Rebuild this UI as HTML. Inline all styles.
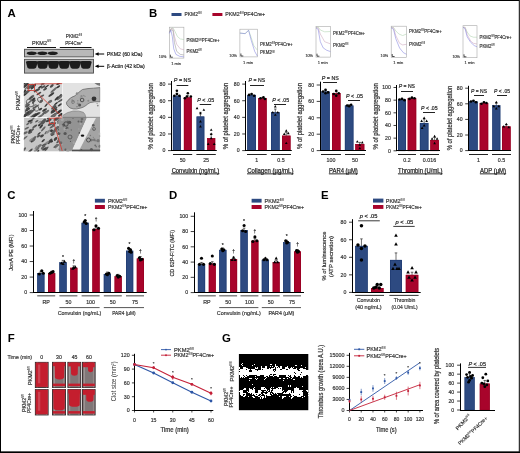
<!DOCTYPE html>
<html><head><meta charset="utf-8"><style>
html,body{margin:0;padding:0;background:#fff;width:520px;height:453px;overflow:hidden;}
</style></head><body>
<svg width="520" height="453" viewBox="0 0 520 453" style="position:absolute;left:0;top:0;will-change:transform">
<g style="font-family:'Liberation Sans', sans-serif">
<rect x="0.00" y="0.00" width="520.00" height="453.00" fill="#fff"/>
<text x="7.40" y="16.90" text-anchor="start" fill="#000" style="font-size:11.4px;font-weight:bold;">A</text>
<text x="148.90" y="16.50" text-anchor="start" fill="#000" style="font-size:11.4px;font-weight:bold;">B</text>
<text x="7.30" y="198.90" text-anchor="start" fill="#000" style="font-size:11.4px;font-weight:bold;">C</text>
<text x="168.90" y="198.90" text-anchor="start" fill="#000" style="font-size:11.4px;font-weight:bold;">D</text>
<text x="320.90" y="198.80" text-anchor="start" fill="#000" style="font-size:11.4px;font-weight:bold;">E</text>
<text x="7.80" y="341.60" text-anchor="start" fill="#000" style="font-size:11.4px;font-weight:bold;">F</text>
<text x="222.00" y="341.70" text-anchor="start" fill="#000" style="font-size:11.4px;font-weight:bold;">G</text>
<text x="41.60" y="44.50" text-anchor="middle" fill="#333" style="font-size:5.3px;stroke:#333;stroke-width:0.180px;" textLength="19.20" lengthAdjust="spacingAndGlyphs">PKM2<tspan dy="-2.01" style="font-size:3.18px;stroke-width:0.05px">fl/fl</tspan></text>
<text x="74.00" y="37.60" text-anchor="middle" fill="#333" style="font-size:5.3px;stroke:#333;stroke-width:0.180px;" textLength="16.50" lengthAdjust="spacingAndGlyphs">PKM2<tspan dy="-2.01" style="font-size:3.18px;stroke-width:0.05px">fl/fl</tspan></text>
<text x="73.80" y="44.50" text-anchor="middle" fill="#333" style="font-size:5.3px;stroke:#333;stroke-width:0.180px;" textLength="17.00" lengthAdjust="spacingAndGlyphs">PF4Cre<tspan dy="-1.9" style="font-size:3.2px">+</tspan></text>
<line x1="27.00" y1="47.50" x2="56.00" y2="47.50" stroke="#111" stroke-width="1.0"/>
<line x1="59.80" y1="47.50" x2="91.50" y2="47.50" stroke="#111" stroke-width="1.0"/>
<rect x="24.50" y="49.30" width="69.00" height="7.60" fill="#b8b8b8" stroke="#4a4a4a" stroke-width="0.9"/>
<rect x="24.50" y="59.30" width="69.00" height="13.80" fill="#b0b0b0" stroke="#4a4a4a" stroke-width="0.9"/>
<path d="M26.60,53.3 Q27.10,51.4 31.70,51.4 Q36.40,51.4 36.90,53.3 Q36.40,55.1 31.70,55.1 Q27.10,55.1 26.60,53.3 Z" fill="#1e1e1e"/>
<path d="M37.20,53.3 Q37.70,51.4 42.30,51.4 Q47.00,51.4 47.50,53.3 Q47.00,55.1 42.30,55.1 Q37.70,55.1 37.20,53.3 Z" fill="#1e1e1e"/>
<path d="M47.60,53.3 Q48.10,51.4 52.70,51.4 Q57.40,51.4 57.90,53.3 Q57.40,55.1 52.70,55.1 Q48.10,55.1 47.60,53.3 Z" fill="#1e1e1e"/>
<path d="M25.90,62.0 Q26.20,61.0 28.20,61.0 L35.60,61.0 Q37.40,61.0 37.70,62.0 L36.20,67.6 Q35.70,68.7 34.00,68.7 L29.40,68.7 Q27.80,68.7 27.40,67.6 Z" fill="#1c1c1c"/>
<path d="M36.70,62.0 Q37.00,61.0 39.00,61.0 L46.40,61.0 Q48.20,61.0 48.50,62.0 L47.00,67.6 Q46.50,68.7 44.80,68.7 L40.20,68.7 Q38.60,68.7 38.20,67.6 Z" fill="#1c1c1c"/>
<path d="M47.50,62.0 Q47.80,61.0 49.80,61.0 L57.20,61.0 Q59.00,61.0 59.30,62.0 L57.80,67.6 Q57.30,68.7 55.60,68.7 L51.00,68.7 Q49.40,68.7 49.00,67.6 Z" fill="#1c1c1c"/>
<path d="M58.30,62.0 Q58.60,61.0 60.60,61.0 L68.00,61.0 Q69.80,61.0 70.10,62.0 L68.60,67.6 Q68.10,68.7 66.40,68.7 L61.80,68.7 Q60.20,68.7 59.80,67.6 Z" fill="#1c1c1c"/>
<path d="M69.10,62.0 Q69.40,61.0 71.40,61.0 L78.80,61.0 Q80.60,61.0 80.90,62.0 L79.40,67.6 Q78.90,68.7 77.20,68.7 L72.60,68.7 Q71.00,68.7 70.60,67.6 Z" fill="#1c1c1c"/>
<path d="M79.90,62.0 Q80.20,61.0 82.20,61.0 L89.60,61.0 Q91.40,61.0 91.70,62.0 L90.20,67.6 Q89.70,68.7 88.00,68.7 L83.40,68.7 Q81.80,68.7 81.40,67.6 Z" fill="#1c1c1c"/>
<line x1="97.00" y1="54.00" x2="104.20" y2="54.00" stroke="#000" stroke-width="1.0"/>
<polygon points="94.8,54.00 98.6,52.20 98.6,55.80" fill="#000"/>
<line x1="97.00" y1="66.30" x2="104.20" y2="66.30" stroke="#000" stroke-width="1.0"/>
<polygon points="94.8,66.30 98.6,64.50 98.6,68.10" fill="#000"/>
<text x="106.70" y="56.00" text-anchor="start" fill="#222" style="font-size:5.3px;stroke:#222;stroke-width:0.180px;" textLength="35.80" lengthAdjust="spacingAndGlyphs">PKM2 (60 kDa)</text>
<text x="106.70" y="68.10" text-anchor="start" fill="#222" style="font-size:5.3px;stroke:#222;stroke-width:0.180px;" textLength="38.00" lengthAdjust="spacingAndGlyphs">&#946;-Actin (42 kDa)</text>
<clipPath id="emc1"><rect x="23.8" y="83" width="38.6" height="34.3"/></clipPath>
<clipPath id="emc2"><rect x="23.8" y="117.8" width="76.4" height="33.8"/></clipPath>
<clipPath id="emc3"><rect x="62.4" y="83" width="37.8" height="34.8"/></clipPath>
<g clip-path="url(#emc1)">
<rect x="23.8" y="83" width="38.6" height="34.3" fill="#d8d8d8"/>
<ellipse cx="29.0" cy="112.1" rx="3.8" ry="0.9" fill="#585858" transform="rotate(-38 29.0 112.1)"/>
<ellipse cx="42.0" cy="96.0" rx="2.5" ry="1.0" fill="#585858" transform="rotate(-30 42.0 96.0)"/>
<ellipse cx="40.5" cy="109.1" rx="2.0" ry="1.0" fill="#3e3e3e" transform="rotate(-34 40.5 109.1)"/>
<ellipse cx="46.6" cy="86.5" rx="2.8" ry="0.7" fill="#333" transform="rotate(-35 46.6 86.5)"/>
<ellipse cx="60.1" cy="96.1" rx="2.5" ry="1.0" fill="#3e3e3e" transform="rotate(-47 60.1 96.1)"/>
<ellipse cx="53.3" cy="115.2" rx="3.3" ry="0.9" fill="#585858" transform="rotate(-34 53.3 115.2)"/>
<ellipse cx="60.6" cy="114.8" rx="3.0" ry="1.2" fill="#333" transform="rotate(-30 60.6 114.8)"/>
<ellipse cx="31.0" cy="117.0" rx="4.1" ry="0.8" fill="#6a6a6a" transform="rotate(-41 31.0 117.0)"/>
<ellipse cx="59.9" cy="97.5" rx="4.0" ry="1.1" fill="#6a6a6a" transform="rotate(-42 59.9 97.5)"/>
<ellipse cx="61.4" cy="100.1" rx="4.3" ry="0.9" fill="#585858" transform="rotate(-31 61.4 100.1)"/>
<ellipse cx="33.2" cy="110.4" rx="3.0" ry="0.8" fill="#4a4a4a" transform="rotate(-37 33.2 110.4)"/>
<ellipse cx="27.1" cy="105.8" rx="2.3" ry="0.8" fill="#4a4a4a" transform="rotate(-31 27.1 105.8)"/>
<ellipse cx="42.7" cy="84.0" rx="2.1" ry="1.1" fill="#6a6a6a" transform="rotate(-28 42.7 84.0)"/>
<ellipse cx="46.1" cy="105.2" rx="2.4" ry="0.8" fill="#3e3e3e" transform="rotate(-48 46.1 105.2)"/>
<ellipse cx="44.6" cy="112.5" rx="2.6" ry="1.0" fill="#6a6a6a" transform="rotate(-29 44.6 112.5)"/>
<ellipse cx="37.4" cy="114.2" rx="3.6" ry="1.1" fill="#585858" transform="rotate(-33 37.4 114.2)"/>
<ellipse cx="54.0" cy="111.1" rx="4.1" ry="1.1" fill="#6a6a6a" transform="rotate(-32 54.0 111.1)"/>
<ellipse cx="53.8" cy="90.0" rx="4.3" ry="1.0" fill="#6a6a6a" transform="rotate(-41 53.8 90.0)"/>
<ellipse cx="31.5" cy="100.3" rx="3.2" ry="0.9" fill="#6a6a6a" transform="rotate(-41 31.5 100.3)"/>
<ellipse cx="44.6" cy="110.0" rx="2.8" ry="1.1" fill="#3e3e3e" transform="rotate(-32 44.6 110.0)"/>
<ellipse cx="45.1" cy="89.2" rx="2.2" ry="1.0" fill="#4a4a4a" transform="rotate(-31 45.1 89.2)"/>
<ellipse cx="25.1" cy="115.4" rx="2.2" ry="1.2" fill="#4a4a4a" transform="rotate(-39 25.1 115.4)"/>
<ellipse cx="33.4" cy="86.8" rx="3.5" ry="0.9" fill="#3e3e3e" transform="rotate(-47 33.4 86.8)"/>
<ellipse cx="33.7" cy="115.7" rx="3.6" ry="1.1" fill="#4a4a4a" transform="rotate(-42 33.7 115.7)"/>
<ellipse cx="43.0" cy="86.9" rx="2.7" ry="0.9" fill="#4a4a4a" transform="rotate(-32 43.0 86.9)"/>
<ellipse cx="28.0" cy="113.9" rx="3.2" ry="0.8" fill="#333" transform="rotate(-36 28.0 113.9)"/>
<ellipse cx="32.5" cy="96.6" rx="2.1" ry="1.3" fill="#6a6a6a" transform="rotate(-39 32.5 96.6)"/>
<ellipse cx="50.0" cy="101.7" rx="2.5" ry="1.3" fill="#6a6a6a" transform="rotate(-32 50.0 101.7)"/>
<ellipse cx="41.2" cy="101.0" rx="2.1" ry="1.1" fill="#585858" transform="rotate(-32 41.2 101.0)"/>
<ellipse cx="26.1" cy="93.2" rx="4.3" ry="1.2" fill="#333" transform="rotate(-42 26.1 93.2)"/>
<ellipse cx="35.8" cy="115.2" rx="3.8" ry="0.9" fill="#333" transform="rotate(-43 35.8 115.2)"/>
<ellipse cx="45.4" cy="112.2" rx="3.4" ry="0.8" fill="#585858" transform="rotate(-30 45.4 112.2)"/>
<ellipse cx="30.4" cy="112.8" rx="4.3" ry="1.1" fill="#585858" transform="rotate(-38 30.4 112.8)"/>
<ellipse cx="31.5" cy="86.4" rx="3.4" ry="1.2" fill="#585858" transform="rotate(-36 31.5 86.4)"/>
<ellipse cx="27.8" cy="105.8" rx="2.7" ry="1.0" fill="#585858" transform="rotate(-41 27.8 105.8)"/>
<ellipse cx="58.5" cy="83.6" rx="2.5" ry="0.9" fill="#3e3e3e" transform="rotate(-28 58.5 83.6)"/>
<ellipse cx="36.9" cy="90.3" rx="3.6" ry="1.2" fill="#4a4a4a" transform="rotate(-29 36.9 90.3)"/>
<ellipse cx="59.1" cy="111.7" rx="3.3" ry="1.2" fill="#333" transform="rotate(-37 59.1 111.7)"/>
<ellipse cx="51.8" cy="85.9" rx="2.4" ry="1.2" fill="#4a4a4a" transform="rotate(-44 51.8 85.9)"/>
<ellipse cx="47.0" cy="111.9" rx="2.9" ry="0.9" fill="#6a6a6a" transform="rotate(-42 47.0 111.9)"/>
<ellipse cx="53.9" cy="107.5" rx="3.2" ry="1.0" fill="#4a4a4a" transform="rotate(-33 53.9 107.5)"/>
<ellipse cx="25.3" cy="85.5" rx="4.1" ry="1.2" fill="#4a4a4a" transform="rotate(-31 25.3 85.5)"/>
<ellipse cx="28.2" cy="103.1" rx="4.2" ry="0.7" fill="#6a6a6a" transform="rotate(-37 28.2 103.1)"/>
<ellipse cx="27.0" cy="92.1" rx="4.1" ry="1.0" fill="#585858" transform="rotate(-29 27.0 92.1)"/>
<ellipse cx="58.4" cy="86.7" rx="2.1" ry="0.9" fill="#333" transform="rotate(-36 58.4 86.7)"/>
<ellipse cx="27.3" cy="86.9" rx="4.1" ry="0.7" fill="#6a6a6a" transform="rotate(-43 27.3 86.9)"/>
<ellipse cx="40.1" cy="87.0" rx="2.4" ry="0.8" fill="#333" transform="rotate(-33 40.1 87.0)"/>
<ellipse cx="40.6" cy="116.1" rx="3.9" ry="1.0" fill="#6a6a6a" transform="rotate(-32 40.6 116.1)"/>
<ellipse cx="33.6" cy="99.4" rx="2.2" ry="1.1" fill="#333" transform="rotate(-47 33.6 99.4)"/>
<ellipse cx="54.2" cy="114.7" rx="3.7" ry="0.9" fill="#585858" transform="rotate(-40 54.2 114.7)"/>
<ellipse cx="26.2" cy="114.3" rx="4.3" ry="1.3" fill="#3e3e3e" transform="rotate(-46 26.2 114.3)"/>
<ellipse cx="54.1" cy="109.7" rx="4.1" ry="1.2" fill="#4a4a4a" transform="rotate(-39 54.1 109.7)"/>
<ellipse cx="33.8" cy="101.6" rx="2.7" ry="0.8" fill="#4a4a4a" transform="rotate(-46 33.8 101.6)"/>
<ellipse cx="27.3" cy="108.8" rx="2.2" ry="1.0" fill="#3e3e3e" transform="rotate(-41 27.3 108.8)"/>
<ellipse cx="38.9" cy="93.5" rx="2.8" ry="0.9" fill="#4a4a4a" transform="rotate(-31 38.9 93.5)"/>
<ellipse cx="33.3" cy="86.5" rx="3.5" ry="1.2" fill="#3e3e3e" transform="rotate(-46 33.3 86.5)"/>
<ellipse cx="24.6" cy="91.4" rx="2.2" ry="1.0" fill="#333" transform="rotate(-47 24.6 91.4)"/>
<ellipse cx="24.6" cy="83.3" rx="3.8" ry="0.9" fill="#3e3e3e" transform="rotate(-39 24.6 83.3)"/>
<ellipse cx="27.7" cy="109.7" rx="2.8" ry="1.0" fill="#3e3e3e" transform="rotate(-35 27.7 109.7)"/>
<ellipse cx="53.8" cy="116.8" rx="4.0" ry="0.9" fill="#6a6a6a" transform="rotate(-46 53.8 116.8)"/>
<ellipse cx="56.0" cy="103.6" rx="2.3" ry="0.8" fill="#333" transform="rotate(-37 56.0 103.6)"/>
<ellipse cx="53.9" cy="111.2" rx="3.5" ry="1.1" fill="#3e3e3e" transform="rotate(-37 53.9 111.2)"/>
<ellipse cx="30.7" cy="97.8" rx="2.4" ry="1.1" fill="#4a4a4a" transform="rotate(-35 30.7 97.8)"/>
<ellipse cx="53.8" cy="106.4" rx="3.1" ry="1.0" fill="#585858" transform="rotate(-43 53.8 106.4)"/>
<ellipse cx="56.7" cy="98.5" rx="2.9" ry="0.9" fill="#333" transform="rotate(-43 56.7 98.5)"/>
<ellipse cx="54.4" cy="115.0" rx="4.3" ry="0.7" fill="#6a6a6a" transform="rotate(-34 54.4 115.0)"/>
<ellipse cx="29.1" cy="87.3" rx="2.6" ry="1.2" fill="#585858" transform="rotate(-40 29.1 87.3)"/>
<ellipse cx="30.4" cy="86.1" rx="3.2" ry="0.8" fill="#585858" transform="rotate(-42 30.4 86.1)"/>
<ellipse cx="59.7" cy="104.9" rx="2.5" ry="0.9" fill="#3e3e3e" transform="rotate(-34 59.7 104.9)"/>
<ellipse cx="51.3" cy="94.6" rx="3.5" ry="1.1" fill="#3e3e3e" transform="rotate(-35 51.3 94.6)"/>
<ellipse cx="25.7" cy="85.5" rx="3.2" ry="1.2" fill="#3e3e3e" transform="rotate(-45 25.7 85.5)"/>
<ellipse cx="35.8" cy="106.8" rx="4.0" ry="0.9" fill="#585858" transform="rotate(-34 35.8 106.8)"/>
<ellipse cx="30" cy="103" rx="3.2" ry="4.16" fill="none" stroke="#555" stroke-width="0.8" transform="rotate(-30 30 103)"/>
<ellipse cx="36" cy="108" rx="2.6" ry="3.3800000000000003" fill="none" stroke="#555" stroke-width="0.8" transform="rotate(-30 36 108)"/>
<ellipse cx="28" cy="112" rx="2.4" ry="3.12" fill="none" stroke="#555" stroke-width="0.8" transform="rotate(-30 28 112)"/>
<ellipse cx="40" cy="100" rx="2.2" ry="2.8600000000000003" fill="none" stroke="#555" stroke-width="0.8" transform="rotate(-30 40 100)"/>
</g>
<g clip-path="url(#emc2)">
<rect x="23.8" y="117.8" width="40" height="33.8" fill="#c6c6c6"/>
<ellipse cx="62.0" cy="149.8" rx="1.5" ry="0.8" fill="#8a8a8a" transform="rotate(-28 62.0 149.8)"/>
<ellipse cx="56.2" cy="146.7" rx="2.0" ry="0.8" fill="#8a8a8a" transform="rotate(-57 56.2 146.7)"/>
<ellipse cx="30.1" cy="132.4" rx="2.3" ry="1.2" fill="#555" transform="rotate(-22 30.1 132.4)"/>
<ellipse cx="45.6" cy="132.8" rx="2.0" ry="0.7" fill="#626262" transform="rotate(-57 45.6 132.8)"/>
<ellipse cx="61.1" cy="148.5" rx="2.3" ry="1.3" fill="#454545" transform="rotate(-52 61.1 148.5)"/>
<ellipse cx="33.2" cy="118.6" rx="2.1" ry="0.8" fill="#707070" transform="rotate(-40 33.2 118.6)"/>
<ellipse cx="50.8" cy="123.9" rx="3.4" ry="1.3" fill="#555" transform="rotate(-32 50.8 123.9)"/>
<ellipse cx="55.4" cy="129.8" rx="3.6" ry="1.4" fill="#626262" transform="rotate(-52 55.4 129.8)"/>
<ellipse cx="52.4" cy="133.4" rx="2.6" ry="1.0" fill="#707070" transform="rotate(-25 52.4 133.4)"/>
<ellipse cx="44.4" cy="144.7" rx="2.9" ry="1.0" fill="#555" transform="rotate(-25 44.4 144.7)"/>
<ellipse cx="46.5" cy="148.9" rx="3.0" ry="1.0" fill="#555" transform="rotate(-50 46.5 148.9)"/>
<ellipse cx="56.4" cy="146.0" rx="3.3" ry="1.1" fill="#626262" transform="rotate(-30 56.4 146.0)"/>
<ellipse cx="36.2" cy="150.2" rx="3.0" ry="1.1" fill="#8a8a8a" transform="rotate(-39 36.2 150.2)"/>
<ellipse cx="48.4" cy="131.5" rx="3.0" ry="1.0" fill="#8a8a8a" transform="rotate(-45 48.4 131.5)"/>
<ellipse cx="48.7" cy="120.3" rx="3.2" ry="1.2" fill="#454545" transform="rotate(-25 48.7 120.3)"/>
<ellipse cx="63.7" cy="121.4" rx="2.7" ry="0.7" fill="#8a8a8a" transform="rotate(-37 63.7 121.4)"/>
<ellipse cx="58.8" cy="121.4" rx="2.5" ry="1.3" fill="#454545" transform="rotate(-49 58.8 121.4)"/>
<ellipse cx="61.5" cy="119.8" rx="3.4" ry="1.2" fill="#555" transform="rotate(-56 61.5 119.8)"/>
<ellipse cx="30.7" cy="140.5" rx="1.6" ry="1.4" fill="#8a8a8a" transform="rotate(-57 30.7 140.5)"/>
<ellipse cx="60.5" cy="130.4" rx="1.7" ry="1.4" fill="#707070" transform="rotate(-32 60.5 130.4)"/>
<ellipse cx="51.5" cy="130.8" rx="1.5" ry="1.4" fill="#3a3a3a" transform="rotate(-53 51.5 130.8)"/>
<ellipse cx="24.0" cy="149.5" rx="2.8" ry="1.2" fill="#626262" transform="rotate(-48 24.0 149.5)"/>
<ellipse cx="25.0" cy="133.0" rx="3.1" ry="1.2" fill="#626262" transform="rotate(-26 25.0 133.0)"/>
<ellipse cx="58.3" cy="141.6" rx="2.4" ry="0.9" fill="#555" transform="rotate(-34 58.3 141.6)"/>
<ellipse cx="57.3" cy="118.6" rx="3.1" ry="1.4" fill="#626262" transform="rotate(-39 57.3 118.6)"/>
<ellipse cx="43.3" cy="128.9" rx="3.3" ry="0.9" fill="#626262" transform="rotate(-49 43.3 128.9)"/>
<ellipse cx="49.9" cy="141.4" rx="3.5" ry="1.2" fill="#454545" transform="rotate(-49 49.9 141.4)"/>
<ellipse cx="30.2" cy="121.0" rx="2.8" ry="1.1" fill="#3a3a3a" transform="rotate(-23 30.2 121.0)"/>
<ellipse cx="63.6" cy="125.7" rx="2.4" ry="0.9" fill="#707070" transform="rotate(-37 63.6 125.7)"/>
<ellipse cx="55.5" cy="138.9" rx="2.2" ry="1.2" fill="#3a3a3a" transform="rotate(-48 55.5 138.9)"/>
<ellipse cx="29.8" cy="130.8" rx="1.8" ry="1.1" fill="#3a3a3a" transform="rotate(-55 29.8 130.8)"/>
<ellipse cx="27.8" cy="123.9" rx="1.9" ry="0.9" fill="#626262" transform="rotate(-39 27.8 123.9)"/>
<ellipse cx="42.0" cy="135.9" rx="2.2" ry="1.2" fill="#454545" transform="rotate(-31 42.0 135.9)"/>
<ellipse cx="53.0" cy="132.5" rx="2.5" ry="1.1" fill="#626262" transform="rotate(-56 53.0 132.5)"/>
<ellipse cx="61.0" cy="137.4" rx="3.4" ry="1.2" fill="#3a3a3a" transform="rotate(-41 61.0 137.4)"/>
<ellipse cx="44.6" cy="148.9" rx="2.7" ry="0.9" fill="#555" transform="rotate(-23 44.6 148.9)"/>
<ellipse cx="36.1" cy="147.4" rx="2.3" ry="0.8" fill="#8a8a8a" transform="rotate(-51 36.1 147.4)"/>
<ellipse cx="56.8" cy="145.2" rx="1.5" ry="1.1" fill="#707070" transform="rotate(-41 56.8 145.2)"/>
<ellipse cx="48.3" cy="118.0" rx="1.5" ry="0.9" fill="#454545" transform="rotate(-32 48.3 118.0)"/>
<ellipse cx="54.0" cy="124.3" rx="2.7" ry="1.0" fill="#555" transform="rotate(-41 54.0 124.3)"/>
<ellipse cx="39.6" cy="121.9" rx="1.7" ry="0.8" fill="#8a8a8a" transform="rotate(-27 39.6 121.9)"/>
<ellipse cx="39.4" cy="125.0" rx="1.6" ry="1.1" fill="#3a3a3a" transform="rotate(-41 39.4 125.0)"/>
<ellipse cx="52.7" cy="134.6" rx="2.2" ry="1.0" fill="#555" transform="rotate(-29 52.7 134.6)"/>
<ellipse cx="43.2" cy="147.1" rx="3.0" ry="1.2" fill="#626262" transform="rotate(-43 43.2 147.1)"/>
<ellipse cx="57.2" cy="127.8" rx="1.9" ry="1.0" fill="#626262" transform="rotate(-49 57.2 127.8)"/>
<ellipse cx="51.6" cy="141.4" rx="1.6" ry="1.2" fill="#3a3a3a" transform="rotate(-37 51.6 141.4)"/>
<ellipse cx="38.0" cy="151.5" rx="1.7" ry="1.0" fill="#3a3a3a" transform="rotate(-56 38.0 151.5)"/>
<ellipse cx="60.3" cy="140.8" rx="3.2" ry="0.7" fill="#626262" transform="rotate(-23 60.3 140.8)"/>
<ellipse cx="33.1" cy="140.5" rx="2.9" ry="1.0" fill="#3a3a3a" transform="rotate(-39 33.1 140.5)"/>
<ellipse cx="30.0" cy="151.1" rx="3.5" ry="1.0" fill="#454545" transform="rotate(-46 30.0 151.1)"/>
<ellipse cx="52.4" cy="126.5" rx="3.4" ry="1.0" fill="#626262" transform="rotate(-33 52.4 126.5)"/>
<ellipse cx="58.8" cy="129.9" rx="3.1" ry="1.2" fill="#8a8a8a" transform="rotate(-41 58.8 129.9)"/>
<ellipse cx="25.0" cy="137.9" rx="3.3" ry="0.8" fill="#626262" transform="rotate(-40 25.0 137.9)"/>
<ellipse cx="34.8" cy="126.4" rx="3.0" ry="1.0" fill="#555" transform="rotate(-35 34.8 126.4)"/>
<ellipse cx="62.3" cy="129.0" rx="3.0" ry="1.2" fill="#8a8a8a" transform="rotate(-31 62.3 129.0)"/>
<ellipse cx="32.8" cy="138.8" rx="2.3" ry="1.2" fill="#8a8a8a" transform="rotate(-23 32.8 138.8)"/>
<ellipse cx="60.4" cy="128.4" rx="2.6" ry="1.3" fill="#454545" transform="rotate(-41 60.4 128.4)"/>
<ellipse cx="56.4" cy="118.4" rx="3.5" ry="1.2" fill="#454545" transform="rotate(-36 56.4 118.4)"/>
<ellipse cx="59.2" cy="121.2" rx="3.2" ry="1.2" fill="#8a8a8a" transform="rotate(-51 59.2 121.2)"/>
<ellipse cx="60.7" cy="137.4" rx="2.5" ry="1.1" fill="#8a8a8a" transform="rotate(-58 60.7 137.4)"/>
<ellipse cx="41.2" cy="126.4" rx="2.6" ry="1.0" fill="#3a3a3a" transform="rotate(-51 41.2 126.4)"/>
<ellipse cx="37.8" cy="148.4" rx="2.6" ry="1.2" fill="#707070" transform="rotate(-56 37.8 148.4)"/>
<ellipse cx="43.2" cy="140.6" rx="2.1" ry="0.9" fill="#3a3a3a" transform="rotate(-40 43.2 140.6)"/>
<ellipse cx="63.3" cy="138.5" rx="2.2" ry="1.2" fill="#626262" transform="rotate(-24 63.3 138.5)"/>
<ellipse cx="34.0" cy="138.9" rx="3.2" ry="1.2" fill="#626262" transform="rotate(-56 34.0 138.9)"/>
<ellipse cx="39.1" cy="133.5" rx="2.0" ry="0.7" fill="#3a3a3a" transform="rotate(-38 39.1 133.5)"/>
<ellipse cx="38.5" cy="136.0" rx="2.2" ry="1.0" fill="#555" transform="rotate(-27 38.5 136.0)"/>
<ellipse cx="43.7" cy="122.3" rx="2.9" ry="1.2" fill="#555" transform="rotate(-47 43.7 122.3)"/>
<ellipse cx="56.8" cy="128.1" rx="2.8" ry="1.3" fill="#626262" transform="rotate(-34 56.8 128.1)"/>
<ellipse cx="44.5" cy="148.9" rx="2.5" ry="0.8" fill="#454545" transform="rotate(-37 44.5 148.9)"/>
<ellipse cx="55.7" cy="139.1" rx="2.1" ry="0.9" fill="#454545" transform="rotate(-42 55.7 139.1)"/>
<ellipse cx="44.7" cy="119.9" rx="1.6" ry="1.2" fill="#555" transform="rotate(-30 44.7 119.9)"/>
<ellipse cx="32.3" cy="129.8" rx="2.1" ry="1.0" fill="#555" transform="rotate(-40 32.3 129.8)"/>
<ellipse cx="42.2" cy="122.3" rx="3.0" ry="1.4" fill="#555" transform="rotate(-50 42.2 122.3)"/>
<ellipse cx="36.8" cy="121.2" rx="1.9" ry="0.8" fill="#555" transform="rotate(-34 36.8 121.2)"/>
<ellipse cx="31.2" cy="122.5" rx="1.7" ry="0.9" fill="#626262" transform="rotate(-38 31.2 122.5)"/>
<ellipse cx="39.8" cy="145.6" rx="2.2" ry="1.3" fill="#707070" transform="rotate(-25 39.8 145.6)"/>
<ellipse cx="47.0" cy="142.5" rx="2.1" ry="1.0" fill="#8a8a8a" transform="rotate(-32 47.0 142.5)"/>
<ellipse cx="61.2" cy="143.3" rx="3.6" ry="0.9" fill="#8a8a8a" transform="rotate(-36 61.2 143.3)"/>
<ellipse cx="26.7" cy="128.2" rx="2.5" ry="0.9" fill="#626262" transform="rotate(-26 26.7 128.2)"/>
<path d="M59,117.8 L87,117.8 L72,151.6 L59,151.6 Z" fill="#939393"/>
<circle cx="74.2" cy="142.5" r="1.5" fill="#a5a5a5"/>
<circle cx="58.8" cy="133.4" r="1.6" fill="#555"/>
<circle cx="81.4" cy="121.7" r="1.1" fill="#606060"/>
<circle cx="67.9" cy="121.4" r="0.8" fill="#606060"/>
<circle cx="68.6" cy="124.0" r="1.5" fill="#9a9a9a"/>
<circle cx="62.1" cy="144.3" r="0.7" fill="#a5a5a5"/>
<circle cx="69.6" cy="122.4" r="1.7" fill="#555"/>
<circle cx="63.4" cy="125.1" r="1.7" fill="#606060"/>
<circle cx="65.5" cy="149.7" r="1.1" fill="#606060"/>
<circle cx="62.7" cy="150.0" r="0.7" fill="#9a9a9a"/>
<circle cx="65.8" cy="129.9" r="0.7" fill="#606060"/>
<circle cx="64.9" cy="129.0" r="1.5" fill="#a5a5a5"/>
<circle cx="58.1" cy="140.4" r="0.9" fill="#6a6a6a"/>
<circle cx="67.2" cy="128.1" r="1.3" fill="#606060"/>
<circle cx="70.5" cy="141.3" r="0.6" fill="#555"/>
<circle cx="68.5" cy="136.1" r="1.0" fill="#9a9a9a"/>
<circle cx="73.0" cy="118.3" r="0.6" fill="#606060"/>
<circle cx="61.1" cy="126.1" r="1.5" fill="#9a9a9a"/>
<circle cx="67.0" cy="129.7" r="1.1" fill="#9a9a9a"/>
<circle cx="60.8" cy="142.7" r="1.5" fill="#6a6a6a"/>
<circle cx="59.0" cy="149.2" r="0.6" fill="#6a6a6a"/>
<circle cx="71.3" cy="130.0" r="0.7" fill="#6a6a6a"/>
<circle cx="66.1" cy="128.5" r="0.7" fill="#555"/>
<circle cx="74.3" cy="141.8" r="0.9" fill="#9a9a9a"/>
<circle cx="62.2" cy="119.6" r="1.7" fill="#a5a5a5"/>
<circle cx="82.0" cy="119.1" r="1.4" fill="#6a6a6a"/>
<circle cx="79.5" cy="133.0" r="1.0" fill="#555"/>
<circle cx="78.8" cy="129.0" r="0.7" fill="#a5a5a5"/>
<circle cx="78.5" cy="121.5" r="1.0" fill="#606060"/>
<circle cx="59.5" cy="131.9" r="0.7" fill="#a5a5a5"/>
<circle cx="69.8" cy="134.1" r="1.4" fill="#9a9a9a"/>
<circle cx="65.1" cy="133.5" r="1.6" fill="#555"/>
<circle cx="67.8" cy="150.6" r="1.7" fill="#9a9a9a"/>
<circle cx="80.6" cy="123.9" r="1.1" fill="#a5a5a5"/>
<path d="M87,117.8 L96,117.8 L78.5,151.6 L71.5,151.6 Z" fill="#e8e8e8"/>
<path d="M96,117.8 L100.2,117.8 L100.2,151.6 L78.5,151.6 Z" fill="#a4a4a4"/>
<circle cx="96.2" cy="146.6" r="0.9" fill="#777"/>
<circle cx="94.3" cy="139.9" r="1.3" fill="#777"/>
<circle cx="91.3" cy="140.1" r="1.4" fill="#777"/>
<circle cx="95.9" cy="140.8" r="0.8" fill="#777"/>
<circle cx="93.3" cy="137.2" r="0.5" fill="#777"/>
<circle cx="93.8" cy="129.8" r="0.8" fill="#777"/>
<circle cx="95.2" cy="145.3" r="0.9" fill="#6a6a6a"/>
<circle cx="98.1" cy="140.7" r="1.6" fill="#777"/>
<circle cx="90.4" cy="135.5" r="0.7" fill="#777"/>
<circle cx="99.6" cy="133.7" r="1.3" fill="#b0b0b0"/>
<circle cx="91.8" cy="140.0" r="1.0" fill="#777"/>
<circle cx="93.3" cy="125.2" r="1.3" fill="#5a5a5a"/>
<circle cx="100.7" cy="150.3" r="0.7" fill="#6a6a6a"/>
<circle cx="81.4" cy="149.9" r="1.0" fill="#5a5a5a"/>
<circle cx="99.9" cy="146.2" r="1.5" fill="#777"/>
<circle cx="100.2" cy="136.1" r="0.8" fill="#777"/>
<circle cx="91.8" cy="149.6" r="1.4" fill="#b0b0b0"/>
<circle cx="88.0" cy="136.6" r="1.1" fill="#b0b0b0"/>
<circle cx="91.4" cy="149.6" r="1.6" fill="#5a5a5a"/>
<circle cx="66" cy="124" r="2.2" fill="none" stroke="#444" stroke-width="0.9"/>
<circle cx="70" cy="137" r="2" fill="none" stroke="#555" stroke-width="0.9"/>
<circle cx="88.5" cy="140" r="2" fill="none" stroke="#4a4a4a" stroke-width="0.9"/>
<circle cx="94" cy="129" r="1.5" fill="none" stroke="#666" stroke-width="0.9"/>
<ellipse cx="82.5" cy="135.7" rx="1.8" ry="1.1" fill="#111"/>
<rect x="72" y="149.6" width="28.2" height="2.0" fill="#505050"/>
</g>
<g clip-path="url(#emc3)">
<rect x="62.4" y="83" width="37.8" height="34.8" fill="#e2e2e2"/>
<path d="M66.5,102.2 Q70,97 74.9,95.8 Q79,92 82.5,89.5 Q88,88.3 93.5,88.2 L100.2,87.6 L100.2,101.7 Q94,101.5 90.1,102.6 Q87.5,104 85.9,105.5 Q83,107.5 80.8,108 Q76,109.5 73.2,108.9 Q69.5,108.2 68.2,106.4 Q66,104.5 66.5,102.2 Z" fill="#acacac" stroke="#6a6a6a" stroke-width="0.8"/>
<circle cx="79.5" cy="105.3" r="0.4" fill="#8a8a8a"/>
<circle cx="72.2" cy="100.1" r="0.9" fill="#8a8a8a"/>
<circle cx="73.2" cy="101.1" r="1.1" fill="#8a8a8a"/>
<circle cx="80.3" cy="97.9" r="0.6" fill="#8a8a8a"/>
<circle cx="77.7" cy="106.6" r="0.7" fill="#8a8a8a"/>
<circle cx="97.8" cy="105.6" r="0.9" fill="#8a8a8a"/>
<circle cx="76.8" cy="106.7" r="0.8" fill="#8a8a8a"/>
<circle cx="81.5" cy="96.1" r="1.2" fill="#8a8a8a"/>
<circle cx="83.8" cy="95.6" r="0.8" fill="#8a8a8a"/>
<circle cx="72.7" cy="100.9" r="0.8" fill="#8a8a8a"/>
<circle cx="77.8" cy="103.5" r="1.1" fill="#8a8a8a"/>
<circle cx="69.4" cy="99.5" r="0.6" fill="#8a8a8a"/>
<circle cx="97.1" cy="103.5" r="0.6" fill="#8a8a8a"/>
<circle cx="77.0" cy="93.5" r="1.2" fill="#8a8a8a"/>
<circle cx="77.8" cy="100.7" r="0.8" fill="#8a8a8a"/>
<circle cx="88.3" cy="100.7" r="1.0" fill="#8a8a8a"/>
<circle cx="72.5" cy="103.2" r="0.6" fill="#8a8a8a"/>
<circle cx="85.0" cy="96.4" r="0.6" fill="#8a8a8a"/>
<circle cx="94" cy="98.8" r="2.4" fill="#333"/>
<circle cx="82.1" cy="100" r="1.8" fill="none" stroke="#444" stroke-width="0.9"/>
<circle cx="79.6" cy="105" r="1.5" fill="#555"/>
<circle cx="73" cy="102" r="1.5" fill="none" stroke="#777" stroke-width="0.7"/>
<path d="M62.4,115.7 Q67,112 73.2,111 Q79,110.5 83.4,112.3 Q85.5,114 85.9,117.8 L62.4,117.8 Z" fill="#ababab" stroke="#777" stroke-width="0.6"/>
<path d="M94.4,83 Q97,85.5 100.2,86 L100.2,83 Z" fill="#777"/>
<rect x="62.4" y="116.9" width="37.8" height="0.9" fill="#666"/>
</g>
<rect x="28.2" y="84.4" width="6.3" height="6.0" fill="none" stroke="#d23a30" stroke-width="0.8"/>
<line x1="34.50" y1="84.00" x2="62.20" y2="83.60" stroke="#d23a30" stroke-width="0.8"/>
<line x1="34.50" y1="90.40" x2="61.90" y2="116.60" stroke="#d23a30" stroke-width="0.8"/>
<rect x="49.3" y="118.2" width="5.4" height="5.2" fill="none" stroke="#d23a30" stroke-width="0.8"/>
<line x1="54.70" y1="118.00" x2="61.80" y2="117.80" stroke="#d23a30" stroke-width="0.8"/>
<line x1="53.90" y1="123.40" x2="62.20" y2="150.80" stroke="#d23a30" stroke-width="0.8"/>
<text x="0" y="0" transform="translate(19.80,100.40) rotate(-90)" text-anchor="middle" fill="#333" style="font-size:5px;stroke:#333;stroke-width:0.170px;" textLength="19.00" lengthAdjust="spacingAndGlyphs">PKM2<tspan dy="-1.90" style="font-size:3.00px;stroke-width:0.05px">fl/fl</tspan></text>
<text x="0" y="0" transform="translate(14.60,134.60) rotate(-90)" text-anchor="middle" fill="#333" style="font-size:5px;stroke:#333;stroke-width:0.170px;" textLength="18.00" lengthAdjust="spacingAndGlyphs">PKM2<tspan dy="-1.90" style="font-size:3.00px;stroke-width:0.05px">fl/fl</tspan></text>
<text x="0" y="0" transform="translate(19.80,134.60) rotate(-90)" text-anchor="middle" fill="#333" style="font-size:5px;stroke:#333;stroke-width:0.170px;" textLength="19.00" lengthAdjust="spacingAndGlyphs">PF4Cre+</text>
<rect x="171.50" y="13.00" width="10.00" height="3.00" fill="#2d4a81"/>
<text x="184.60" y="16.30" text-anchor="start" fill="#333" style="font-size:5.3px;stroke:#333;stroke-width:0.180px;" textLength="17.00" lengthAdjust="spacingAndGlyphs">PKM2<tspan dy="-2.01" style="font-size:3.18px;stroke-width:0.05px">fl/fl</tspan></text>
<rect x="212.40" y="13.00" width="10.00" height="3.00" fill="#a8042b"/>
<text x="225.30" y="16.30" text-anchor="start" fill="#333" style="font-size:5.3px;stroke:#333;stroke-width:0.180px;">PKM2<tspan dy="-2.01" style="font-size:3.18px;stroke-width:0.05px">fl/fl</tspan><tspan dy="2.01">PF4Cre+</tspan></text>
<rect x="169.40" y="27.20" width="14.50" height="30.90" fill="#fff" stroke="#a8a8a8" stroke-width="0.6"/>
<polyline points="169.40,31.84 170.85,28.75 173.03,27.82 175.20,31.84 177.38,36.47 180.28,38.94 183.90,39.56" fill="none" stroke="#a4cca4" stroke-width="0.5" stroke-linejoin="round"/>
<polyline points="169.40,31.84 170.85,28.75 173.03,28.75 174.47,36.47 176.65,44.20 180.28,48.83 183.90,49.76" fill="none" stroke="#c49ab4" stroke-width="0.5" stroke-linejoin="round"/>
<polyline points="169.40,32.45 170.85,29.67 173.03,30.29 174.47,42.65 176.65,51.30 180.28,54.39 183.90,55.01" fill="none" stroke="#8a8a8a" stroke-width="0.5" stroke-linejoin="round"/>
<polyline points="169.40,33.38 170.85,30.29 172.30,36.47 173.75,48.83 175.93,54.39 179.55,56.25 183.90,56.86" fill="none" stroke="#7676dc" stroke-width="0.5" stroke-linejoin="round"/>
<line x1="170.40" y1="54.70" x2="170.40" y2="57.20" stroke="#000" stroke-width="0.7"/>
<line x1="170.40" y1="57.20" x2="172.80" y2="57.20" stroke="#000" stroke-width="0.7"/>
<text x="166.40" y="57.90" text-anchor="end" fill="#333" style="font-size:4.4px;stroke:#333;stroke-width:0.150px;" textLength="7.60" lengthAdjust="spacingAndGlyphs">10%</text>
<text x="176.15" y="64.80" text-anchor="middle" fill="#333" style="font-size:4.4px;stroke:#333;stroke-width:0.150px;" textLength="10.00" lengthAdjust="spacingAndGlyphs">1 min</text>
<text x="186.50" y="42.40" text-anchor="start" fill="#333" style="font-size:4.6px;stroke:#333;stroke-width:0.156px;" textLength="33.00" lengthAdjust="spacingAndGlyphs">PKM2<tspan dy="-1.75" style="font-size:2.76px;stroke-width:0.05px">fl/fl</tspan><tspan dy="1.75">PF4Cre+</tspan></text>
<text x="186.50" y="52.90" text-anchor="start" fill="#333" style="font-size:4.6px;stroke:#333;stroke-width:0.156px;" textLength="15.40" lengthAdjust="spacingAndGlyphs">PKM2<tspan dy="-1.75" style="font-size:2.76px;stroke-width:0.05px">fl/fl</tspan></text>
<rect x="239.90" y="29.20" width="17.40" height="27.70" fill="#fff" stroke="#a8a8a8" stroke-width="0.6"/>
<polyline points="239.90,33.08 245.12,33.63 248.60,30.31 251.21,37.51 253.82,45.82 257.30,49.97" fill="none" stroke="#a4cca4" stroke-width="0.5" stroke-linejoin="round"/>
<polyline points="239.90,33.08 245.12,33.63 248.60,30.31 251.21,40.28 254.69,51.36 257.30,56.07" fill="none" stroke="#7676dc" stroke-width="0.5" stroke-linejoin="round"/>
<line x1="240.90" y1="53.50" x2="240.90" y2="56.00" stroke="#000" stroke-width="0.7"/>
<line x1="240.90" y1="56.00" x2="243.30" y2="56.00" stroke="#000" stroke-width="0.7"/>
<text x="236.90" y="56.70" text-anchor="end" fill="#333" style="font-size:4.4px;stroke:#333;stroke-width:0.150px;" textLength="7.60" lengthAdjust="spacingAndGlyphs">10%</text>
<text x="248.10" y="63.60" text-anchor="middle" fill="#333" style="font-size:4.4px;stroke:#333;stroke-width:0.150px;" textLength="10.00" lengthAdjust="spacingAndGlyphs">1 min</text>
<text x="259.90" y="45.50" text-anchor="start" fill="#333" style="font-size:4.6px;stroke:#333;stroke-width:0.156px;" textLength="32.70" lengthAdjust="spacingAndGlyphs">PKM2<tspan dy="-1.75" style="font-size:2.76px;stroke-width:0.05px">fl/fl</tspan><tspan dy="1.75">PF4Cre+</tspan></text>
<text x="259.90" y="54.30" text-anchor="start" fill="#333" style="font-size:4.6px;stroke:#333;stroke-width:0.156px;" textLength="15.00" lengthAdjust="spacingAndGlyphs">PKM2<tspan dy="-1.75" style="font-size:2.76px;stroke-width:0.05px">fl/fl</tspan></text>
<rect x="316.00" y="26.30" width="14.40" height="30.80" fill="#fff" stroke="#a8a8a8" stroke-width="0.6"/>
<polyline points="316.00,27.84 318.16,26.92 320.32,30.00 324.64,31.84 330.40,31.54" fill="none" stroke="#a4cca4" stroke-width="0.5" stroke-linejoin="round"/>
<polyline points="316.00,27.84 318.16,27.84 320.32,34.00 324.64,41.70 330.40,43.86" fill="none" stroke="#c49ab4" stroke-width="0.5" stroke-linejoin="round"/>
<polyline points="316.00,27.84 318.16,29.38 320.32,41.70 323.20,47.86 326.80,50.32 330.40,51.56" fill="none" stroke="#7676dc" stroke-width="0.5" stroke-linejoin="round"/>
<line x1="317.00" y1="53.70" x2="317.00" y2="56.20" stroke="#000" stroke-width="0.7"/>
<line x1="317.00" y1="56.20" x2="319.40" y2="56.20" stroke="#000" stroke-width="0.7"/>
<text x="313.00" y="56.90" text-anchor="end" fill="#333" style="font-size:4.4px;stroke:#333;stroke-width:0.150px;" textLength="7.60" lengthAdjust="spacingAndGlyphs">10%</text>
<text x="322.70" y="63.80" text-anchor="middle" fill="#333" style="font-size:4.4px;stroke:#333;stroke-width:0.150px;" textLength="10.00" lengthAdjust="spacingAndGlyphs">1 min</text>
<text x="333.00" y="34.50" text-anchor="start" fill="#333" style="font-size:4.6px;stroke:#333;stroke-width:0.156px;" textLength="32.10" lengthAdjust="spacingAndGlyphs">PKM2<tspan dy="-1.75" style="font-size:2.76px;stroke-width:0.05px">fl/fl</tspan><tspan dy="1.75">PF4Cre+</tspan></text>
<text x="333.00" y="47.10" text-anchor="start" fill="#333" style="font-size:4.6px;stroke:#333;stroke-width:0.156px;" textLength="15.40" lengthAdjust="spacingAndGlyphs">PKM2<tspan dy="-1.75" style="font-size:2.76px;stroke-width:0.05px">fl/fl</tspan></text>
<rect x="391.20" y="26.20" width="15.30" height="31.20" fill="#fff" stroke="#a8a8a8" stroke-width="0.6"/>
<polyline points="391.20,27.76 393.50,27.45 395.79,30.88 398.85,34.00 402.68,35.56 406.50,34.00" fill="none" stroke="#a4cca4" stroke-width="0.5" stroke-linejoin="round"/>
<polyline points="391.20,27.76 393.50,27.76 395.79,35.56 399.62,43.36 402.68,44.92 406.50,44.30" fill="none" stroke="#c49ab4" stroke-width="0.5" stroke-linejoin="round"/>
<polyline points="391.20,27.76 393.50,29.32 395.79,38.68 399.62,48.04 403.44,52.72 406.50,54.28" fill="none" stroke="#7676dc" stroke-width="0.5" stroke-linejoin="round"/>
<line x1="392.20" y1="54.00" x2="392.20" y2="56.50" stroke="#000" stroke-width="0.7"/>
<line x1="392.20" y1="56.50" x2="394.60" y2="56.50" stroke="#000" stroke-width="0.7"/>
<text x="388.20" y="57.20" text-anchor="end" fill="#333" style="font-size:4.4px;stroke:#333;stroke-width:0.150px;" textLength="7.60" lengthAdjust="spacingAndGlyphs">10%</text>
<text x="398.35" y="64.10" text-anchor="middle" fill="#333" style="font-size:4.4px;stroke:#333;stroke-width:0.150px;" textLength="10.00" lengthAdjust="spacingAndGlyphs">1 min</text>
<text x="409.10" y="33.20" text-anchor="start" fill="#333" style="font-size:4.6px;stroke:#333;stroke-width:0.156px;" textLength="32.70" lengthAdjust="spacingAndGlyphs">PKM2<tspan dy="-1.75" style="font-size:2.76px;stroke-width:0.05px">fl/fl</tspan><tspan dy="1.75">PF4Cre+</tspan></text>
<text x="409.10" y="45.50" text-anchor="start" fill="#333" style="font-size:4.6px;stroke:#333;stroke-width:0.156px;" textLength="16.00" lengthAdjust="spacingAndGlyphs">PKM2<tspan dy="-1.75" style="font-size:2.76px;stroke-width:0.05px">fl/fl</tspan></text>
<rect x="463.00" y="25.70" width="14.00" height="32.00" fill="#fff" stroke="#a8a8a8" stroke-width="0.6"/>
<polyline points="463.00,27.30 465.10,27.30 467.20,32.10 470.00,35.94 473.50,37.22 477.00,37.22" fill="none" stroke="#a4cca4" stroke-width="0.5" stroke-linejoin="round"/>
<polyline points="463.00,27.30 465.10,27.30 467.20,34.66 470.70,41.06 473.50,43.30 477.00,43.94" fill="none" stroke="#c49ab4" stroke-width="0.5" stroke-linejoin="round"/>
<polyline points="463.00,27.30 465.10,28.90 467.20,36.90 470.70,42.34 474.20,45.54 477.00,46.82" fill="none" stroke="#7676dc" stroke-width="0.5" stroke-linejoin="round"/>
<line x1="464.00" y1="54.30" x2="464.00" y2="56.80" stroke="#000" stroke-width="0.7"/>
<line x1="464.00" y1="56.80" x2="466.40" y2="56.80" stroke="#000" stroke-width="0.7"/>
<text x="460.00" y="57.50" text-anchor="end" fill="#333" style="font-size:4.4px;stroke:#333;stroke-width:0.150px;" textLength="7.60" lengthAdjust="spacingAndGlyphs">10%</text>
<text x="469.50" y="64.40" text-anchor="middle" fill="#333" style="font-size:4.4px;stroke:#333;stroke-width:0.150px;" textLength="10.00" lengthAdjust="spacingAndGlyphs">1 min</text>
<text x="479.60" y="38.90" text-anchor="start" fill="#333" style="font-size:4.6px;stroke:#333;stroke-width:0.156px;" textLength="32.00" lengthAdjust="spacingAndGlyphs">PKM2<tspan dy="-1.75" style="font-size:2.76px;stroke-width:0.05px">fl/fl</tspan><tspan dy="1.75">PF4Cre+</tspan></text>
<text x="479.60" y="47.90" text-anchor="start" fill="#333" style="font-size:4.6px;stroke:#333;stroke-width:0.156px;" textLength="15.10" lengthAdjust="spacingAndGlyphs">PKM2<tspan dy="-1.75" style="font-size:2.76px;stroke-width:0.05px">fl/fl</tspan></text>
<rect x="172.90" y="95.74" width="8.00" height="54.86" fill="#2d4a81"/>
<rect x="173.20" y="96.04" width="7.40" height="54.56" fill="none" stroke="#1d3970" stroke-width="0.6"/>
<line x1="176.90" y1="95.74" x2="176.90" y2="93.24" stroke="#111" stroke-width="0.6"/>
<line x1="175.60" y1="93.24" x2="178.20" y2="93.24" stroke="#111" stroke-width="0.6"/>
<circle cx="174.40" cy="95.74" r="1.30" fill="#000"/>
<circle cx="176.90" cy="90.75" r="1.30" fill="#000"/>
<circle cx="179.40" cy="95.74" r="1.30" fill="#000"/>
<circle cx="176.90" cy="94.07" r="1.30" fill="#000"/>
<rect x="183.90" y="97.40" width="7.90" height="53.20" fill="#a8042b"/>
<rect x="184.20" y="97.70" width="7.30" height="52.90" fill="none" stroke="#950020" stroke-width="0.6"/>
<line x1="187.85" y1="97.40" x2="187.85" y2="95.74" stroke="#111" stroke-width="0.6"/>
<line x1="186.55" y1="95.74" x2="189.15" y2="95.74" stroke="#111" stroke-width="0.6"/>
<circle cx="184.85" cy="98.23" r="1.30" fill="#000"/>
<circle cx="187.85" cy="93.24" r="1.30" fill="#000"/>
<circle cx="190.85" cy="96.57" r="1.30" fill="#000"/>
<circle cx="186.85" cy="96.57" r="1.30" fill="#000"/>
<rect x="196.60" y="116.52" width="7.70" height="34.08" fill="#2d4a81"/>
<rect x="196.90" y="116.82" width="7.10" height="33.78" fill="none" stroke="#1d3970" stroke-width="0.6"/>
<line x1="200.45" y1="116.52" x2="200.45" y2="112.36" stroke="#111" stroke-width="0.6"/>
<line x1="199.15" y1="112.36" x2="201.75" y2="112.36" stroke="#111" stroke-width="0.6"/>
<polygon points="197.05,106.78 198.41,109.21 195.69,109.21" fill="#000"/>
<polygon points="203.85,108.44 205.21,110.87 202.49,110.87" fill="#000"/>
<polygon points="200.45,111.76 201.81,114.19 199.09,114.19" fill="#000"/>
<polygon points="200.45,120.08 201.81,122.51 199.09,122.51" fill="#000"/>
<polygon points="200.45,125.06 201.81,127.49 199.09,127.49" fill="#000"/>
<rect x="207.20" y="138.13" width="8.00" height="12.47" fill="#a8042b"/>
<rect x="207.50" y="138.43" width="7.40" height="12.17" fill="none" stroke="#950020" stroke-width="0.6"/>
<line x1="211.20" y1="138.13" x2="211.20" y2="133.97" stroke="#111" stroke-width="0.6"/>
<line x1="209.90" y1="133.97" x2="212.50" y2="133.97" stroke="#111" stroke-width="0.6"/>
<polygon points="211.20,128.39 212.56,130.82 209.84,130.82" fill="#000"/>
<polygon points="211.20,132.54 212.56,134.98 209.84,134.98" fill="#000"/>
<polygon points="211.20,136.70 212.56,139.13 209.84,139.13" fill="#000"/>
<polygon points="208.20,142.52 209.56,144.95 206.84,144.95" fill="#000"/>
<polygon points="214.20,142.52 215.56,144.95 212.84,144.95" fill="#000"/>
<line x1="171.50" y1="81.00" x2="171.50" y2="151.00" stroke="#000" stroke-width="1.0"/>
<line x1="171.00" y1="150.50" x2="216.80" y2="150.50" stroke="#000" stroke-width="1.0"/>
<line x1="168.00" y1="150.60" x2="171.30" y2="150.60" stroke="#000" stroke-width="0.75"/>
<text x="165.40" y="152.45" text-anchor="end" fill="#333" style="font-size:5.2px;stroke:#333;stroke-width:0.177px;">0</text>
<line x1="168.00" y1="133.97" x2="171.30" y2="133.97" stroke="#000" stroke-width="0.75"/>
<text x="165.40" y="135.82" text-anchor="end" fill="#333" style="font-size:5.2px;stroke:#333;stroke-width:0.177px;">20</text>
<line x1="168.00" y1="117.35" x2="171.30" y2="117.35" stroke="#000" stroke-width="0.75"/>
<text x="165.40" y="119.20" text-anchor="end" fill="#333" style="font-size:5.2px;stroke:#333;stroke-width:0.177px;">40</text>
<line x1="168.00" y1="100.72" x2="171.30" y2="100.72" stroke="#000" stroke-width="0.75"/>
<text x="165.40" y="102.57" text-anchor="end" fill="#333" style="font-size:5.2px;stroke:#333;stroke-width:0.177px;">60</text>
<line x1="168.00" y1="84.10" x2="171.30" y2="84.10" stroke="#000" stroke-width="0.75"/>
<text x="165.40" y="85.95" text-anchor="end" fill="#333" style="font-size:5.2px;stroke:#333;stroke-width:0.177px;">80</text>
<line x1="173.00" y1="154.50" x2="192.20" y2="154.50" stroke="#222" stroke-width="1.0"/>
<line x1="196.40" y1="154.50" x2="215.80" y2="154.50" stroke="#222" stroke-width="1.0"/>
<text x="182.60" y="161.80" text-anchor="middle" fill="#333" style="font-size:5.3px;stroke:#333;stroke-width:0.180px;">50</text>
<text x="206.10" y="161.80" text-anchor="middle" fill="#333" style="font-size:5.3px;stroke:#333;stroke-width:0.180px;">25</text>
<text x="195.40" y="172.50" text-anchor="middle" fill="#222" style="font-size:6.5px;stroke:#222;stroke-width:0.221px;" text-decoration="underline" textLength="47.50" lengthAdjust="spacingAndGlyphs">Convulxin (ng/mL)</text>
<text x="182.45" y="82.30" text-anchor="middle" fill="#222" style="font-size:5.3px;stroke:#222;stroke-width:0.180px;" textLength="17.50" lengthAdjust="spacingAndGlyphs"><tspan font-style="italic">P</tspan> = NS</text>
<line x1="176.60" y1="85.50" x2="188.30" y2="85.50" stroke="#222" stroke-width="1.0"/>
<text x="205.80" y="101.70" text-anchor="middle" fill="#222" style="font-size:5.3px;stroke:#222;stroke-width:0.180px;" textLength="17.00" lengthAdjust="spacingAndGlyphs"><tspan font-style="italic">P</tspan> &lt; .05</text>
<line x1="199.70" y1="104.50" x2="211.20" y2="104.50" stroke="#222" stroke-width="1.0"/>
<text x="0" y="0" transform="translate(153.10,116.30) rotate(-90)" text-anchor="middle" fill="#333" style="font-size:6.3px;stroke:#333;stroke-width:0.214px;" textLength="66.30" lengthAdjust="spacingAndGlyphs">% of platelet aggregation</text>
<rect x="247.20" y="94.91" width="8.80" height="55.69" fill="#2d4a81"/>
<rect x="247.50" y="95.21" width="8.20" height="55.39" fill="none" stroke="#1d3970" stroke-width="0.6"/>
<line x1="251.60" y1="94.91" x2="251.60" y2="94.07" stroke="#111" stroke-width="0.6"/>
<line x1="250.30" y1="94.07" x2="252.90" y2="94.07" stroke="#111" stroke-width="0.6"/>
<circle cx="249.10" cy="94.91" r="1.30" fill="#000"/>
<circle cx="251.60" cy="94.07" r="1.30" fill="#000"/>
<circle cx="254.10" cy="95.74" r="1.30" fill="#000"/>
<rect x="258.20" y="98.23" width="8.50" height="52.37" fill="#a8042b"/>
<rect x="258.50" y="98.53" width="7.90" height="52.07" fill="none" stroke="#950020" stroke-width="0.6"/>
<line x1="262.45" y1="98.23" x2="262.45" y2="97.40" stroke="#111" stroke-width="0.6"/>
<line x1="261.15" y1="97.40" x2="263.75" y2="97.40" stroke="#111" stroke-width="0.6"/>
<circle cx="260.45" cy="98.23" r="1.30" fill="#000"/>
<circle cx="263.45" cy="97.40" r="1.30" fill="#000"/>
<circle cx="264.95" cy="99.06" r="1.30" fill="#000"/>
<rect x="271.00" y="112.36" width="8.60" height="38.24" fill="#2d4a81"/>
<rect x="271.30" y="112.66" width="8.00" height="37.94" fill="none" stroke="#1d3970" stroke-width="0.6"/>
<line x1="275.30" y1="112.36" x2="275.30" y2="109.04" stroke="#111" stroke-width="0.6"/>
<line x1="274.00" y1="109.04" x2="276.60" y2="109.04" stroke="#111" stroke-width="0.6"/>
<polygon points="275.30,105.11 276.66,107.54 273.94,107.54" fill="#000"/>
<polygon points="272.80,110.93 274.16,113.36 271.44,113.36" fill="#000"/>
<polygon points="277.80,110.93 279.16,113.36 276.44,113.36" fill="#000"/>
<polygon points="275.30,113.43 276.66,115.86 273.94,115.86" fill="#000"/>
<rect x="282.00" y="135.64" width="8.50" height="14.96" fill="#a8042b"/>
<rect x="282.30" y="135.94" width="7.90" height="14.66" fill="none" stroke="#950020" stroke-width="0.6"/>
<line x1="286.25" y1="135.64" x2="286.25" y2="132.31" stroke="#111" stroke-width="0.6"/>
<line x1="284.95" y1="132.31" x2="287.55" y2="132.31" stroke="#111" stroke-width="0.6"/>
<polygon points="286.25,129.22 287.61,131.65 284.89,131.65" fill="#000"/>
<polygon points="284.25,132.54 285.61,134.98 282.89,134.98" fill="#000"/>
<polygon points="288.25,131.71 289.61,134.14 286.89,134.14" fill="#000"/>
<polygon points="286.25,141.69 287.61,144.12 284.89,144.12" fill="#000"/>
<line x1="245.50" y1="81.00" x2="245.50" y2="151.00" stroke="#000" stroke-width="1.0"/>
<line x1="245.00" y1="150.50" x2="291.80" y2="150.50" stroke="#000" stroke-width="1.0"/>
<line x1="242.20" y1="150.60" x2="245.50" y2="150.60" stroke="#000" stroke-width="0.75"/>
<text x="239.60" y="152.45" text-anchor="end" fill="#333" style="font-size:5.2px;stroke:#333;stroke-width:0.177px;">0</text>
<line x1="242.20" y1="133.97" x2="245.50" y2="133.97" stroke="#000" stroke-width="0.75"/>
<text x="239.60" y="135.82" text-anchor="end" fill="#333" style="font-size:5.2px;stroke:#333;stroke-width:0.177px;">20</text>
<line x1="242.20" y1="117.35" x2="245.50" y2="117.35" stroke="#000" stroke-width="0.75"/>
<text x="239.60" y="119.20" text-anchor="end" fill="#333" style="font-size:5.2px;stroke:#333;stroke-width:0.177px;">40</text>
<line x1="242.20" y1="100.72" x2="245.50" y2="100.72" stroke="#000" stroke-width="0.75"/>
<text x="239.60" y="102.57" text-anchor="end" fill="#333" style="font-size:5.2px;stroke:#333;stroke-width:0.177px;">60</text>
<line x1="242.20" y1="84.10" x2="245.50" y2="84.10" stroke="#000" stroke-width="0.75"/>
<text x="239.60" y="85.95" text-anchor="end" fill="#333" style="font-size:5.2px;stroke:#333;stroke-width:0.177px;">80</text>
<line x1="247.00" y1="154.50" x2="266.70" y2="154.50" stroke="#222" stroke-width="1.0"/>
<line x1="271.00" y1="154.50" x2="291.00" y2="154.50" stroke="#222" stroke-width="1.0"/>
<text x="256.85" y="161.80" text-anchor="middle" fill="#333" style="font-size:5.3px;stroke:#333;stroke-width:0.180px;">1</text>
<text x="281.00" y="161.80" text-anchor="middle" fill="#333" style="font-size:5.3px;stroke:#333;stroke-width:0.180px;">0.5</text>
<text x="270.30" y="172.50" text-anchor="middle" fill="#222" style="font-size:6.5px;stroke:#222;stroke-width:0.221px;" text-decoration="underline" textLength="46.30" lengthAdjust="spacingAndGlyphs">Collagen (&#181;g/mL)</text>
<text x="256.85" y="82.30" text-anchor="middle" fill="#222" style="font-size:5.3px;stroke:#222;stroke-width:0.180px;" textLength="16.50" lengthAdjust="spacingAndGlyphs"><tspan font-style="italic">P</tspan> = NS</text>
<line x1="250.00" y1="85.50" x2="264.00" y2="85.50" stroke="#222" stroke-width="1.0"/>
<text x="280.80" y="101.70" text-anchor="middle" fill="#222" style="font-size:5.3px;stroke:#222;stroke-width:0.180px;" textLength="17.00" lengthAdjust="spacingAndGlyphs"><tspan font-style="italic">P</tspan> &lt; .05</text>
<line x1="274.00" y1="104.50" x2="286.00" y2="104.50" stroke="#222" stroke-width="1.0"/>
<text x="0" y="0" transform="translate(227.70,116.00) rotate(-90)" text-anchor="middle" fill="#333" style="font-size:6.3px;stroke:#333;stroke-width:0.214px;" textLength="66.30" lengthAdjust="spacingAndGlyphs">% of platelet aggregation</text>
<rect x="321.30" y="91.56" width="8.50" height="59.04" fill="#2d4a81"/>
<rect x="321.60" y="91.86" width="7.90" height="58.74" fill="none" stroke="#1d3970" stroke-width="0.6"/>
<line x1="325.55" y1="91.56" x2="325.55" y2="89.92" stroke="#111" stroke-width="0.6"/>
<line x1="324.25" y1="89.92" x2="326.85" y2="89.92" stroke="#111" stroke-width="0.6"/>
<circle cx="323.05" cy="91.56" r="1.30" fill="#000"/>
<circle cx="325.55" cy="89.92" r="1.30" fill="#000"/>
<circle cx="328.05" cy="92.38" r="1.30" fill="#000"/>
<circle cx="325.55" cy="93.20" r="1.30" fill="#000"/>
<rect x="332.00" y="93.20" width="8.50" height="57.40" fill="#a8042b"/>
<rect x="332.30" y="93.50" width="7.90" height="57.10" fill="none" stroke="#950020" stroke-width="0.6"/>
<line x1="336.25" y1="93.20" x2="336.25" y2="91.56" stroke="#111" stroke-width="0.6"/>
<line x1="334.95" y1="91.56" x2="337.55" y2="91.56" stroke="#111" stroke-width="0.6"/>
<circle cx="333.75" cy="94.02" r="1.30" fill="#000"/>
<circle cx="336.25" cy="90.74" r="1.30" fill="#000"/>
<circle cx="338.75" cy="93.20" r="1.30" fill="#000"/>
<circle cx="336.25" cy="95.66" r="1.30" fill="#000"/>
<rect x="344.90" y="105.50" width="8.50" height="45.10" fill="#2d4a81"/>
<rect x="345.20" y="105.80" width="7.90" height="44.80" fill="none" stroke="#1d3970" stroke-width="0.6"/>
<line x1="349.15" y1="105.50" x2="349.15" y2="104.68" stroke="#111" stroke-width="0.6"/>
<line x1="347.85" y1="104.68" x2="350.45" y2="104.68" stroke="#111" stroke-width="0.6"/>
<circle cx="347.15" cy="105.50" r="1.30" fill="#000"/>
<circle cx="351.15" cy="104.68" r="1.30" fill="#000"/>
<circle cx="349.15" cy="106.32" r="1.30" fill="#000"/>
<rect x="355.30" y="144.04" width="9.00" height="6.56" fill="#a8042b"/>
<rect x="355.60" y="144.34" width="8.40" height="6.26" fill="none" stroke="#950020" stroke-width="0.6"/>
<line x1="359.80" y1="144.04" x2="359.80" y2="142.40" stroke="#111" stroke-width="0.6"/>
<line x1="358.50" y1="142.40" x2="361.10" y2="142.40" stroke="#111" stroke-width="0.6"/>
<polygon points="357.30,140.15 358.66,142.58 355.94,142.58" fill="#000"/>
<polygon points="362.30,140.97 363.66,143.40 360.94,143.40" fill="#000"/>
<polygon points="359.80,143.43 361.16,145.86 358.44,145.86" fill="#000"/>
<polygon points="359.80,146.71 361.16,149.14 358.44,149.14" fill="#000"/>
<line x1="320.50" y1="81.70" x2="320.50" y2="151.00" stroke="#000" stroke-width="1.0"/>
<line x1="320.00" y1="150.50" x2="366.00" y2="150.50" stroke="#000" stroke-width="1.0"/>
<line x1="316.70" y1="150.60" x2="320.00" y2="150.60" stroke="#000" stroke-width="0.75"/>
<text x="314.10" y="152.45" text-anchor="end" fill="#333" style="font-size:5.2px;stroke:#333;stroke-width:0.177px;">0</text>
<line x1="316.70" y1="134.20" x2="320.00" y2="134.20" stroke="#000" stroke-width="0.75"/>
<text x="314.10" y="136.05" text-anchor="end" fill="#333" style="font-size:5.2px;stroke:#333;stroke-width:0.177px;">20</text>
<line x1="316.70" y1="117.80" x2="320.00" y2="117.80" stroke="#000" stroke-width="0.75"/>
<text x="314.10" y="119.65" text-anchor="end" fill="#333" style="font-size:5.2px;stroke:#333;stroke-width:0.177px;">40</text>
<line x1="316.70" y1="101.40" x2="320.00" y2="101.40" stroke="#000" stroke-width="0.75"/>
<text x="314.10" y="103.25" text-anchor="end" fill="#333" style="font-size:5.2px;stroke:#333;stroke-width:0.177px;">60</text>
<line x1="316.70" y1="85.00" x2="320.00" y2="85.00" stroke="#000" stroke-width="0.75"/>
<text x="314.10" y="86.85" text-anchor="end" fill="#333" style="font-size:5.2px;stroke:#333;stroke-width:0.177px;">80</text>
<line x1="321.00" y1="154.50" x2="341.00" y2="154.50" stroke="#222" stroke-width="1.0"/>
<line x1="345.00" y1="154.50" x2="365.00" y2="154.50" stroke="#222" stroke-width="1.0"/>
<text x="331.00" y="161.80" text-anchor="middle" fill="#333" style="font-size:5.3px;stroke:#333;stroke-width:0.180px;">100</text>
<text x="355.00" y="161.80" text-anchor="middle" fill="#333" style="font-size:5.3px;stroke:#333;stroke-width:0.180px;">50</text>
<text x="343.40" y="172.50" text-anchor="middle" fill="#222" style="font-size:6.5px;stroke:#222;stroke-width:0.221px;" text-decoration="underline" textLength="28.80" lengthAdjust="spacingAndGlyphs">PAR4 (&#181;M)</text>
<text x="330.30" y="80.30" text-anchor="middle" fill="#222" style="font-size:5.3px;stroke:#222;stroke-width:0.180px;" textLength="17.00" lengthAdjust="spacingAndGlyphs"><tspan font-style="italic">P</tspan> = NS</text>
<line x1="323.00" y1="82.50" x2="337.00" y2="82.50" stroke="#222" stroke-width="1.0"/>
<text x="354.50" y="98.10" text-anchor="middle" fill="#222" style="font-size:5.3px;stroke:#222;stroke-width:0.180px;" textLength="17.00" lengthAdjust="spacingAndGlyphs"><tspan font-style="italic">P</tspan> &lt; .05</text>
<line x1="348.00" y1="100.50" x2="360.00" y2="100.50" stroke="#222" stroke-width="1.0"/>
<text x="0" y="0" transform="translate(301.60,116.00) rotate(-90)" text-anchor="middle" fill="#333" style="font-size:6.3px;stroke:#333;stroke-width:0.214px;" textLength="65.90" lengthAdjust="spacingAndGlyphs">% of platelet aggregation</text>
<rect x="398.00" y="99.53" width="8.00" height="51.27" fill="#2d4a81"/>
<rect x="398.30" y="99.83" width="7.40" height="50.97" fill="none" stroke="#1d3970" stroke-width="0.6"/>
<line x1="402.00" y1="99.53" x2="402.00" y2="98.89" stroke="#111" stroke-width="0.6"/>
<line x1="400.70" y1="98.89" x2="403.30" y2="98.89" stroke="#111" stroke-width="0.6"/>
<circle cx="399.50" cy="99.53" r="1.30" fill="#000"/>
<circle cx="402.00" cy="98.89" r="1.30" fill="#000"/>
<circle cx="404.50" cy="100.16" r="1.30" fill="#000"/>
<rect x="407.70" y="98.26" width="8.50" height="52.54" fill="#a8042b"/>
<rect x="408.00" y="98.56" width="7.90" height="52.24" fill="none" stroke="#950020" stroke-width="0.6"/>
<line x1="411.95" y1="98.26" x2="411.95" y2="97.63" stroke="#111" stroke-width="0.6"/>
<line x1="410.65" y1="97.63" x2="413.25" y2="97.63" stroke="#111" stroke-width="0.6"/>
<circle cx="409.45" cy="98.89" r="1.30" fill="#000"/>
<circle cx="411.95" cy="97.63" r="1.30" fill="#000"/>
<circle cx="414.45" cy="98.26" r="1.30" fill="#000"/>
<rect x="419.90" y="122.95" width="8.50" height="27.85" fill="#2d4a81"/>
<rect x="420.20" y="123.25" width="7.90" height="27.55" fill="none" stroke="#1d3970" stroke-width="0.6"/>
<line x1="424.15" y1="122.95" x2="424.15" y2="119.15" stroke="#111" stroke-width="0.6"/>
<line x1="422.85" y1="119.15" x2="425.45" y2="119.15" stroke="#111" stroke-width="0.6"/>
<polygon points="424.15,116.45 425.51,118.89 422.79,118.89" fill="#000"/>
<polygon points="421.65,119.62 423.01,122.05 420.29,122.05" fill="#000"/>
<polygon points="426.65,119.62 428.01,122.05 425.29,122.05" fill="#000"/>
<polygon points="424.15,124.05 425.51,126.48 422.79,126.48" fill="#000"/>
<polygon points="422.15,126.58 423.51,129.01 420.79,129.01" fill="#000"/>
<rect x="430.30" y="140.04" width="8.60" height="10.76" fill="#a8042b"/>
<rect x="430.60" y="140.34" width="8.00" height="10.46" fill="none" stroke="#950020" stroke-width="0.6"/>
<line x1="434.60" y1="140.04" x2="434.60" y2="137.51" stroke="#111" stroke-width="0.6"/>
<line x1="433.30" y1="137.51" x2="435.90" y2="137.51" stroke="#111" stroke-width="0.6"/>
<polygon points="434.60,134.81 435.96,137.24 433.24,137.24" fill="#000"/>
<polygon points="432.10,137.34 433.46,139.77 430.74,139.77" fill="#000"/>
<polygon points="437.10,137.34 438.46,139.77 435.74,139.77" fill="#000"/>
<polygon points="434.60,141.77 435.96,144.21 433.24,144.21" fill="#000"/>
<line x1="396.50" y1="85.00" x2="396.50" y2="151.00" stroke="#000" stroke-width="1.0"/>
<line x1="396.00" y1="150.50" x2="440.00" y2="150.50" stroke="#000" stroke-width="1.0"/>
<line x1="393.50" y1="150.80" x2="396.80" y2="150.80" stroke="#000" stroke-width="0.75"/>
<text x="390.90" y="152.65" text-anchor="end" fill="#333" style="font-size:5.2px;stroke:#333;stroke-width:0.177px;">0</text>
<line x1="393.50" y1="138.14" x2="396.80" y2="138.14" stroke="#000" stroke-width="0.75"/>
<text x="390.90" y="139.99" text-anchor="end" fill="#333" style="font-size:5.2px;stroke:#333;stroke-width:0.177px;">20</text>
<line x1="393.50" y1="125.48" x2="396.80" y2="125.48" stroke="#000" stroke-width="0.75"/>
<text x="390.90" y="127.33" text-anchor="end" fill="#333" style="font-size:5.2px;stroke:#333;stroke-width:0.177px;">40</text>
<line x1="393.50" y1="112.82" x2="396.80" y2="112.82" stroke="#000" stroke-width="0.75"/>
<text x="390.90" y="114.67" text-anchor="end" fill="#333" style="font-size:5.2px;stroke:#333;stroke-width:0.177px;">60</text>
<line x1="393.50" y1="100.16" x2="396.80" y2="100.16" stroke="#000" stroke-width="0.75"/>
<text x="390.90" y="102.01" text-anchor="end" fill="#333" style="font-size:5.2px;stroke:#333;stroke-width:0.177px;">80</text>
<line x1="393.50" y1="87.50" x2="396.80" y2="87.50" stroke="#000" stroke-width="0.75"/>
<text x="390.90" y="89.35" text-anchor="end" fill="#333" style="font-size:5.2px;stroke:#333;stroke-width:0.177px;">100</text>
<line x1="398.00" y1="154.50" x2="416.00" y2="154.50" stroke="#222" stroke-width="1.0"/>
<line x1="420.00" y1="154.50" x2="439.00" y2="154.50" stroke="#222" stroke-width="1.0"/>
<text x="407.00" y="161.80" text-anchor="middle" fill="#333" style="font-size:5.3px;stroke:#333;stroke-width:0.180px;">0.2</text>
<text x="429.50" y="161.80" text-anchor="middle" fill="#333" style="font-size:5.3px;stroke:#333;stroke-width:0.180px;">0.016</text>
<text x="420.30" y="172.50" text-anchor="middle" fill="#222" style="font-size:6.5px;stroke:#222;stroke-width:0.221px;" text-decoration="underline" textLength="44.50" lengthAdjust="spacingAndGlyphs">Thrombin (U/mL)</text>
<text x="406.85" y="88.30" text-anchor="middle" fill="#222" style="font-size:5.3px;stroke:#222;stroke-width:0.180px;" textLength="16.30" lengthAdjust="spacingAndGlyphs"><tspan font-style="italic">P</tspan> = NS</text>
<line x1="401.00" y1="91.50" x2="413.00" y2="91.50" stroke="#222" stroke-width="1.0"/>
<text x="429.30" y="110.20" text-anchor="middle" fill="#222" style="font-size:5.3px;stroke:#222;stroke-width:0.180px;" textLength="16.60" lengthAdjust="spacingAndGlyphs"><tspan font-style="italic">P</tspan> &lt; .05</text>
<line x1="423.00" y1="112.50" x2="435.00" y2="112.50" stroke="#222" stroke-width="1.0"/>
<text x="0" y="0" transform="translate(377.90,116.30) rotate(-90)" text-anchor="middle" fill="#333" style="font-size:6.3px;stroke:#333;stroke-width:0.214px;" textLength="66.30" lengthAdjust="spacingAndGlyphs">% of platelet aggregation</text>
<rect x="469.20" y="101.46" width="8.50" height="49.14" fill="#2d4a81"/>
<rect x="469.50" y="101.76" width="7.90" height="48.84" fill="none" stroke="#1d3970" stroke-width="0.6"/>
<line x1="473.45" y1="101.46" x2="473.45" y2="100.68" stroke="#111" stroke-width="0.6"/>
<line x1="472.15" y1="100.68" x2="474.75" y2="100.68" stroke="#111" stroke-width="0.6"/>
<circle cx="470.95" cy="101.46" r="1.30" fill="#000"/>
<circle cx="473.45" cy="100.68" r="1.30" fill="#000"/>
<circle cx="475.95" cy="102.24" r="1.30" fill="#000"/>
<rect x="479.70" y="103.02" width="8.50" height="47.58" fill="#a8042b"/>
<rect x="480.00" y="103.32" width="7.90" height="47.28" fill="none" stroke="#950020" stroke-width="0.6"/>
<line x1="483.95" y1="103.02" x2="483.95" y2="102.24" stroke="#111" stroke-width="0.6"/>
<line x1="482.65" y1="102.24" x2="485.25" y2="102.24" stroke="#111" stroke-width="0.6"/>
<circle cx="481.45" cy="103.80" r="1.30" fill="#000"/>
<circle cx="483.95" cy="102.24" r="1.30" fill="#000"/>
<circle cx="486.45" cy="103.02" r="1.30" fill="#000"/>
<rect x="492.30" y="105.36" width="8.00" height="45.24" fill="#2d4a81"/>
<rect x="492.60" y="105.66" width="7.40" height="44.94" fill="none" stroke="#1d3970" stroke-width="0.6"/>
<line x1="496.30" y1="105.36" x2="496.30" y2="103.02" stroke="#111" stroke-width="0.6"/>
<line x1="495.00" y1="103.02" x2="497.60" y2="103.02" stroke="#111" stroke-width="0.6"/>
<polygon points="496.30,100.81 497.66,103.24 494.94,103.24" fill="#000"/>
<polygon points="493.80,104.71 495.16,107.14 492.44,107.14" fill="#000"/>
<polygon points="498.80,104.71 500.16,107.14 497.44,107.14" fill="#000"/>
<polygon points="496.30,107.05 497.66,109.48 494.94,109.48" fill="#000"/>
<rect x="502.00" y="126.42" width="8.60" height="24.18" fill="#a8042b"/>
<rect x="502.30" y="126.72" width="8.00" height="23.88" fill="none" stroke="#950020" stroke-width="0.6"/>
<line x1="506.30" y1="126.42" x2="506.30" y2="124.86" stroke="#111" stroke-width="0.6"/>
<line x1="505.00" y1="124.86" x2="507.60" y2="124.86" stroke="#111" stroke-width="0.6"/>
<polygon points="506.30,122.65 507.66,125.08 504.94,125.08" fill="#000"/>
<polygon points="503.80,124.99 505.16,127.42 502.44,127.42" fill="#000"/>
<polygon points="508.80,125.77 510.16,128.20 507.44,128.20" fill="#000"/>
<line x1="468.50" y1="85.80" x2="468.50" y2="151.00" stroke="#000" stroke-width="1.0"/>
<line x1="468.00" y1="150.50" x2="511.00" y2="150.50" stroke="#000" stroke-width="1.0"/>
<line x1="465.20" y1="150.60" x2="468.50" y2="150.60" stroke="#000" stroke-width="0.75"/>
<text x="462.60" y="152.45" text-anchor="end" fill="#333" style="font-size:5.2px;stroke:#333;stroke-width:0.177px;">0</text>
<line x1="465.20" y1="135.00" x2="468.50" y2="135.00" stroke="#000" stroke-width="0.75"/>
<text x="462.60" y="136.85" text-anchor="end" fill="#333" style="font-size:5.2px;stroke:#333;stroke-width:0.177px;">20</text>
<line x1="465.20" y1="119.40" x2="468.50" y2="119.40" stroke="#000" stroke-width="0.75"/>
<text x="462.60" y="121.25" text-anchor="end" fill="#333" style="font-size:5.2px;stroke:#333;stroke-width:0.177px;">40</text>
<line x1="465.20" y1="103.80" x2="468.50" y2="103.80" stroke="#000" stroke-width="0.75"/>
<text x="462.60" y="105.65" text-anchor="end" fill="#333" style="font-size:5.2px;stroke:#333;stroke-width:0.177px;">60</text>
<line x1="465.20" y1="88.20" x2="468.50" y2="88.20" stroke="#000" stroke-width="0.75"/>
<text x="462.60" y="90.05" text-anchor="end" fill="#333" style="font-size:5.2px;stroke:#333;stroke-width:0.177px;">80</text>
<line x1="469.00" y1="154.50" x2="488.00" y2="154.50" stroke="#222" stroke-width="1.0"/>
<line x1="492.00" y1="154.50" x2="511.00" y2="154.50" stroke="#222" stroke-width="1.0"/>
<text x="478.50" y="161.80" text-anchor="middle" fill="#333" style="font-size:5.3px;stroke:#333;stroke-width:0.180px;">1</text>
<text x="501.50" y="161.80" text-anchor="middle" fill="#333" style="font-size:5.3px;stroke:#333;stroke-width:0.180px;">0.5</text>
<text x="493.00" y="172.50" text-anchor="middle" fill="#222" style="font-size:6.5px;stroke:#222;stroke-width:0.221px;" text-decoration="underline" textLength="26.00" lengthAdjust="spacingAndGlyphs">ADP (&#181;M)</text>
<text x="479.00" y="93.10" text-anchor="middle" fill="#222" style="font-size:5.3px;stroke:#222;stroke-width:0.180px;" textLength="16.00" lengthAdjust="spacingAndGlyphs"><tspan font-style="italic">P</tspan> = NS</text>
<line x1="474.00" y1="95.50" x2="484.00" y2="95.50" stroke="#222" stroke-width="1.0"/>
<text x="502.00" y="93.10" text-anchor="middle" fill="#222" style="font-size:5.3px;stroke:#222;stroke-width:0.180px;" textLength="16.00" lengthAdjust="spacingAndGlyphs"><tspan font-style="italic">P</tspan> &lt; .05</text>
<line x1="497.00" y1="95.50" x2="507.00" y2="95.50" stroke="#222" stroke-width="1.0"/>
<text x="0" y="0" transform="translate(451.80,118.00) rotate(-90)" text-anchor="middle" fill="#333" style="font-size:6.3px;stroke:#333;stroke-width:0.214px;" textLength="64.50" lengthAdjust="spacingAndGlyphs">% of platelet aggregation</text>
<rect x="94.90" y="198.80" width="10.00" height="3.80" fill="#2d4a81"/>
<rect x="94.90" y="205.00" width="10.00" height="4.00" fill="#a8042b"/>
<text x="107.90" y="202.70" text-anchor="start" fill="#333" style="font-size:5.3px;stroke:#333;stroke-width:0.180px;" textLength="19.30" lengthAdjust="spacingAndGlyphs">PKM2<tspan dy="-2.01" style="font-size:3.18px;stroke-width:0.05px">fl/fl</tspan></text>
<text x="107.90" y="208.90" text-anchor="start" fill="#333" style="font-size:5.3px;stroke:#333;stroke-width:0.180px;" textLength="39.50" lengthAdjust="spacingAndGlyphs">PKM2<tspan dy="-2.01" style="font-size:3.18px;stroke-width:0.05px">fl/fl</tspan><tspan dy="2.01">PF4Cre+</tspan></text>
<rect x="37.20" y="273.20" width="7.20" height="19.40" fill="#2d4a81"/>
<rect x="37.50" y="273.50" width="6.60" height="19.10" fill="none" stroke="#1d3970" stroke-width="0.6"/>
<line x1="40.80" y1="273.20" x2="40.80" y2="271.26" stroke="#111" stroke-width="0.6"/>
<line x1="39.50" y1="271.26" x2="42.10" y2="271.26" stroke="#111" stroke-width="0.6"/>
<circle cx="39.30" cy="273.98" r="1.55" fill="#000"/>
<circle cx="41.80" cy="270.87" r="1.55" fill="#000"/>
<circle cx="43.30" cy="273.20" r="1.55" fill="#000"/>
<rect x="48.00" y="273.20" width="7.20" height="19.40" fill="#a8042b"/>
<rect x="48.30" y="273.50" width="6.60" height="19.10" fill="none" stroke="#950020" stroke-width="0.6"/>
<line x1="51.60" y1="273.20" x2="51.60" y2="271.26" stroke="#111" stroke-width="0.6"/>
<line x1="50.30" y1="271.26" x2="52.90" y2="271.26" stroke="#111" stroke-width="0.6"/>
<circle cx="50.10" cy="273.20" r="1.55" fill="#000"/>
<circle cx="53.10" cy="271.65" r="1.55" fill="#000"/>
<circle cx="51.60" cy="272.42" r="1.55" fill="#000"/>
<rect x="59.40" y="262.34" width="7.20" height="30.26" fill="#2d4a81"/>
<rect x="59.70" y="262.64" width="6.60" height="29.96" fill="none" stroke="#1d3970" stroke-width="0.6"/>
<line x1="63.00" y1="262.34" x2="63.00" y2="260.40" stroke="#111" stroke-width="0.6"/>
<line x1="61.70" y1="260.40" x2="64.30" y2="260.40" stroke="#111" stroke-width="0.6"/>
<polygon points="61.50,261.41 63.12,264.31 59.88,264.31" fill="#000"/>
<polygon points="64.50,259.86 66.12,262.75 62.88,262.75" fill="#000"/>
<polygon points="63.00,262.18 64.62,265.08 61.38,265.08" fill="#000"/>
<rect x="70.20" y="267.77" width="7.20" height="24.83" fill="#a8042b"/>
<rect x="70.50" y="268.07" width="6.60" height="24.53" fill="none" stroke="#950020" stroke-width="0.6"/>
<line x1="73.80" y1="267.77" x2="73.80" y2="265.83" stroke="#111" stroke-width="0.6"/>
<line x1="72.50" y1="265.83" x2="75.10" y2="265.83" stroke="#111" stroke-width="0.6"/>
<polygon points="72.80,266.84 74.42,269.74 71.18,269.74" fill="#000"/>
<polygon points="75.30,265.29 76.92,268.19 73.68,268.19" fill="#000"/>
<polygon points="73.80,266.06 75.42,268.96 72.18,268.96" fill="#000"/>
<rect x="81.60" y="222.76" width="7.20" height="69.84" fill="#2d4a81"/>
<rect x="81.90" y="223.06" width="6.60" height="69.54" fill="none" stroke="#1d3970" stroke-width="0.6"/>
<line x1="85.20" y1="222.76" x2="85.20" y2="220.82" stroke="#111" stroke-width="0.6"/>
<line x1="83.90" y1="220.82" x2="86.50" y2="220.82" stroke="#111" stroke-width="0.6"/>
<circle cx="85.20" cy="220.43" r="1.55" fill="#000"/>
<circle cx="86.20" cy="223.54" r="1.55" fill="#000"/>
<circle cx="84.20" cy="221.98" r="1.55" fill="#000"/>
<rect x="92.40" y="228.97" width="7.20" height="63.63" fill="#a8042b"/>
<rect x="92.70" y="229.27" width="6.60" height="63.33" fill="none" stroke="#950020" stroke-width="0.6"/>
<line x1="96.00" y1="228.97" x2="96.00" y2="227.03" stroke="#111" stroke-width="0.6"/>
<line x1="94.70" y1="227.03" x2="97.30" y2="227.03" stroke="#111" stroke-width="0.6"/>
<circle cx="96.00" cy="225.86" r="1.55" fill="#000"/>
<circle cx="94.00" cy="229.74" r="1.55" fill="#000"/>
<circle cx="98.50" cy="228.19" r="1.55" fill="#000"/>
<rect x="103.80" y="273.98" width="7.20" height="18.62" fill="#2d4a81"/>
<rect x="104.10" y="274.28" width="6.60" height="18.32" fill="none" stroke="#1d3970" stroke-width="0.6"/>
<line x1="107.40" y1="273.98" x2="107.40" y2="272.04" stroke="#111" stroke-width="0.6"/>
<line x1="106.10" y1="272.04" x2="108.70" y2="272.04" stroke="#111" stroke-width="0.6"/>
<circle cx="106.40" cy="273.98" r="1.55" fill="#000"/>
<circle cx="108.90" cy="273.20" r="1.55" fill="#000"/>
<circle cx="107.40" cy="274.75" r="1.55" fill="#000"/>
<rect x="114.60" y="276.30" width="7.20" height="16.30" fill="#a8042b"/>
<rect x="114.90" y="276.60" width="6.60" height="16.00" fill="none" stroke="#950020" stroke-width="0.6"/>
<line x1="118.20" y1="276.30" x2="118.20" y2="274.36" stroke="#111" stroke-width="0.6"/>
<line x1="116.90" y1="274.36" x2="119.50" y2="274.36" stroke="#111" stroke-width="0.6"/>
<circle cx="117.20" cy="275.53" r="1.55" fill="#000"/>
<circle cx="119.70" cy="276.30" r="1.55" fill="#000"/>
<circle cx="118.20" cy="277.08" r="1.55" fill="#000"/>
<rect x="126.00" y="250.70" width="7.20" height="41.90" fill="#2d4a81"/>
<rect x="126.30" y="251.00" width="6.60" height="41.60" fill="none" stroke="#1d3970" stroke-width="0.6"/>
<line x1="129.60" y1="250.70" x2="129.60" y2="248.76" stroke="#111" stroke-width="0.6"/>
<line x1="128.30" y1="248.76" x2="130.90" y2="248.76" stroke="#111" stroke-width="0.6"/>
<circle cx="128.60" cy="248.37" r="1.55" fill="#000"/>
<circle cx="130.60" cy="249.92" r="1.55" fill="#000"/>
<circle cx="129.60" cy="251.47" r="1.55" fill="#000"/>
<circle cx="131.10" cy="252.25" r="1.55" fill="#000"/>
<rect x="136.80" y="258.46" width="7.20" height="34.14" fill="#a8042b"/>
<rect x="137.10" y="258.76" width="6.60" height="33.84" fill="none" stroke="#950020" stroke-width="0.6"/>
<line x1="140.40" y1="258.46" x2="140.40" y2="256.52" stroke="#111" stroke-width="0.6"/>
<line x1="139.10" y1="256.52" x2="141.70" y2="256.52" stroke="#111" stroke-width="0.6"/>
<circle cx="139.40" cy="257.68" r="1.55" fill="#000"/>
<circle cx="141.90" cy="259.23" r="1.55" fill="#000"/>
<circle cx="140.40" cy="260.01" r="1.55" fill="#000"/>
<line x1="33.50" y1="211.00" x2="33.50" y2="293.00" stroke="#000" stroke-width="1.0"/>
<line x1="33.00" y1="292.50" x2="146.70" y2="292.50" stroke="#000" stroke-width="1.0"/>
<line x1="29.70" y1="292.60" x2="33.00" y2="292.60" stroke="#000" stroke-width="0.75"/>
<text x="27.10" y="294.45" text-anchor="end" fill="#333" style="font-size:5.2px;stroke:#333;stroke-width:0.177px;">0</text>
<line x1="29.70" y1="277.08" x2="33.00" y2="277.08" stroke="#000" stroke-width="0.75"/>
<text x="27.10" y="278.93" text-anchor="end" fill="#333" style="font-size:5.2px;stroke:#333;stroke-width:0.177px;">20</text>
<line x1="29.70" y1="261.56" x2="33.00" y2="261.56" stroke="#000" stroke-width="0.75"/>
<text x="27.10" y="263.41" text-anchor="end" fill="#333" style="font-size:5.2px;stroke:#333;stroke-width:0.177px;">40</text>
<line x1="29.70" y1="246.04" x2="33.00" y2="246.04" stroke="#000" stroke-width="0.75"/>
<text x="27.10" y="247.89" text-anchor="end" fill="#333" style="font-size:5.2px;stroke:#333;stroke-width:0.177px;">60</text>
<line x1="29.70" y1="230.52" x2="33.00" y2="230.52" stroke="#000" stroke-width="0.75"/>
<text x="27.10" y="232.37" text-anchor="end" fill="#333" style="font-size:5.2px;stroke:#333;stroke-width:0.177px;">80</text>
<line x1="29.70" y1="215.00" x2="33.00" y2="215.00" stroke="#000" stroke-width="0.75"/>
<text x="27.10" y="216.85" text-anchor="end" fill="#333" style="font-size:5.2px;stroke:#333;stroke-width:0.177px;">100</text>
<text x="63.00" y="258.96" text-anchor="middle" fill="#222" style="font-size:5.0px;stroke:#222;stroke-width:0.170px;">*</text>
<text x="85.20" y="217.83" text-anchor="middle" fill="#222" style="font-size:5.0px;stroke:#222;stroke-width:0.170px;">*</text>
<text x="129.60" y="245.77" text-anchor="middle" fill="#222" style="font-size:5.0px;stroke:#222;stroke-width:0.170px;">*</text>
<text x="73.80" y="262.59" text-anchor="middle" fill="#222" style="font-size:4.8px;stroke:#222;stroke-width:0.163px;">&#8224;</text>
<text x="96.00" y="221.46" text-anchor="middle" fill="#222" style="font-size:4.8px;stroke:#222;stroke-width:0.163px;">&#8224;</text>
<text x="140.40" y="253.28" text-anchor="middle" fill="#222" style="font-size:4.8px;stroke:#222;stroke-width:0.163px;">&#8224;</text>
<line x1="37.20" y1="295.80" x2="55.20" y2="295.80" stroke="#707070" stroke-width="1.3"/>
<line x1="59.40" y1="295.80" x2="77.40" y2="295.80" stroke="#707070" stroke-width="1.3"/>
<line x1="81.60" y1="295.80" x2="99.60" y2="295.80" stroke="#707070" stroke-width="1.3"/>
<line x1="103.80" y1="295.80" x2="121.80" y2="295.80" stroke="#707070" stroke-width="1.3"/>
<line x1="126.00" y1="295.80" x2="144.00" y2="295.80" stroke="#707070" stroke-width="1.3"/>
<text x="46.20" y="303.60" text-anchor="middle" fill="#333" style="font-size:5.3px;stroke:#333;stroke-width:0.180px;">RP</text>
<text x="68.40" y="303.60" text-anchor="middle" fill="#333" style="font-size:5.3px;stroke:#333;stroke-width:0.180px;">50</text>
<text x="90.60" y="303.60" text-anchor="middle" fill="#333" style="font-size:5.3px;stroke:#333;stroke-width:0.180px;">100</text>
<text x="112.80" y="303.60" text-anchor="middle" fill="#333" style="font-size:5.3px;stroke:#333;stroke-width:0.180px;">50</text>
<text x="135.00" y="303.60" text-anchor="middle" fill="#333" style="font-size:5.3px;stroke:#333;stroke-width:0.180px;">75</text>
<line x1="59.40" y1="307.60" x2="99.60" y2="307.60" stroke="#555" stroke-width="1.0"/>
<line x1="103.80" y1="307.60" x2="144.00" y2="307.60" stroke="#555" stroke-width="1.0"/>
<text x="79.50" y="315.40" text-anchor="middle" fill="#333" style="font-size:5.4px;stroke:#333;stroke-width:0.184px;" textLength="43.60" lengthAdjust="spacingAndGlyphs">Convulxin (ng/mL)</text>
<text x="123.90" y="315.40" text-anchor="middle" fill="#333" style="font-size:5.4px;stroke:#333;stroke-width:0.184px;" textLength="23.30" lengthAdjust="spacingAndGlyphs">PAR4 (&#181;M)</text>
<text x="0" y="0" transform="translate(12.90,252.60) rotate(-90)" text-anchor="middle" fill="#333" style="font-size:6.2px;stroke:#333;stroke-width:0.211px;" textLength="36.20" lengthAdjust="spacingAndGlyphs">JonA PE (MFI)</text>
<rect x="251.60" y="198.80" width="10.00" height="3.80" fill="#2d4a81"/>
<rect x="251.60" y="205.00" width="10.00" height="4.00" fill="#a8042b"/>
<text x="264.60" y="202.70" text-anchor="start" fill="#333" style="font-size:5.3px;stroke:#333;stroke-width:0.180px;" textLength="19.30" lengthAdjust="spacingAndGlyphs">PKM2<tspan dy="-2.01" style="font-size:3.18px;stroke-width:0.05px">fl/fl</tspan></text>
<text x="264.60" y="208.90" text-anchor="start" fill="#333" style="font-size:5.3px;stroke:#333;stroke-width:0.180px;" textLength="39.50" lengthAdjust="spacingAndGlyphs">PKM2<tspan dy="-2.01" style="font-size:3.18px;stroke-width:0.05px">fl/fl</tspan><tspan dy="2.01">PF4Cre+</tspan></text>
<rect x="197.90" y="264.37" width="7.20" height="28.23" fill="#2d4a81"/>
<rect x="198.20" y="264.67" width="6.60" height="27.93" fill="none" stroke="#1d3970" stroke-width="0.6"/>
<line x1="201.50" y1="264.37" x2="201.50" y2="262.46" stroke="#111" stroke-width="0.6"/>
<line x1="200.20" y1="262.46" x2="202.80" y2="262.46" stroke="#111" stroke-width="0.6"/>
<circle cx="201.50" cy="258.26" r="1.55" fill="#000"/>
<circle cx="199.50" cy="264.37" r="1.55" fill="#000"/>
<circle cx="203.50" cy="264.37" r="1.55" fill="#000"/>
<rect x="208.80" y="263.61" width="7.00" height="28.99" fill="#a8042b"/>
<rect x="209.10" y="263.91" width="6.40" height="28.69" fill="none" stroke="#950020" stroke-width="0.6"/>
<line x1="212.30" y1="263.61" x2="212.30" y2="261.70" stroke="#111" stroke-width="0.6"/>
<line x1="211.00" y1="261.70" x2="213.60" y2="261.70" stroke="#111" stroke-width="0.6"/>
<circle cx="212.30" cy="255.98" r="1.55" fill="#000"/>
<circle cx="210.30" cy="263.61" r="1.55" fill="#000"/>
<circle cx="214.30" cy="264.37" r="1.55" fill="#000"/>
<rect x="219.20" y="249.87" width="7.20" height="42.73" fill="#2d4a81"/>
<rect x="219.50" y="250.17" width="6.60" height="42.43" fill="none" stroke="#1d3970" stroke-width="0.6"/>
<line x1="222.80" y1="249.87" x2="222.80" y2="247.96" stroke="#111" stroke-width="0.6"/>
<line x1="221.50" y1="247.96" x2="224.10" y2="247.96" stroke="#111" stroke-width="0.6"/>
<circle cx="221.80" cy="249.11" r="1.55" fill="#000"/>
<circle cx="223.80" cy="249.87" r="1.55" fill="#000"/>
<circle cx="222.80" cy="250.64" r="1.55" fill="#000"/>
<rect x="230.10" y="259.03" width="7.00" height="33.57" fill="#a8042b"/>
<rect x="230.40" y="259.33" width="6.40" height="33.27" fill="none" stroke="#950020" stroke-width="0.6"/>
<line x1="233.60" y1="259.03" x2="233.60" y2="257.12" stroke="#111" stroke-width="0.6"/>
<line x1="232.30" y1="257.12" x2="234.90" y2="257.12" stroke="#111" stroke-width="0.6"/>
<polygon points="233.60,255.80 235.22,258.70 231.98,258.70" fill="#000"/>
<polygon points="232.10,258.09 233.72,260.98 230.48,260.98" fill="#000"/>
<polygon points="235.10,258.09 236.72,260.98 233.48,260.98" fill="#000"/>
<rect x="240.50" y="230.03" width="7.20" height="62.57" fill="#2d4a81"/>
<rect x="240.80" y="230.33" width="6.60" height="62.27" fill="none" stroke="#1d3970" stroke-width="0.6"/>
<line x1="244.10" y1="230.03" x2="244.10" y2="228.13" stroke="#111" stroke-width="0.6"/>
<line x1="242.80" y1="228.13" x2="245.40" y2="228.13" stroke="#111" stroke-width="0.6"/>
<circle cx="244.10" cy="225.46" r="1.55" fill="#000"/>
<circle cx="242.60" cy="230.80" r="1.55" fill="#000"/>
<circle cx="245.60" cy="231.56" r="1.55" fill="#000"/>
<rect x="251.40" y="240.72" width="7.00" height="51.88" fill="#a8042b"/>
<rect x="251.70" y="241.02" width="6.40" height="51.58" fill="none" stroke="#950020" stroke-width="0.6"/>
<line x1="254.90" y1="240.72" x2="254.90" y2="238.81" stroke="#111" stroke-width="0.6"/>
<line x1="253.60" y1="238.81" x2="256.20" y2="238.81" stroke="#111" stroke-width="0.6"/>
<circle cx="254.90" cy="236.90" r="1.55" fill="#000"/>
<circle cx="252.90" cy="241.48" r="1.55" fill="#000"/>
<circle cx="256.90" cy="240.72" r="1.55" fill="#000"/>
<rect x="261.80" y="259.79" width="7.20" height="32.81" fill="#2d4a81"/>
<rect x="262.10" y="260.09" width="6.60" height="32.51" fill="none" stroke="#1d3970" stroke-width="0.6"/>
<line x1="265.40" y1="259.79" x2="265.40" y2="257.88" stroke="#111" stroke-width="0.6"/>
<line x1="264.10" y1="257.88" x2="266.70" y2="257.88" stroke="#111" stroke-width="0.6"/>
<polygon points="265.40,256.56 267.02,259.46 263.78,259.46" fill="#000"/>
<circle cx="263.90" cy="259.79" r="1.55" fill="#000"/>
<circle cx="266.90" cy="259.79" r="1.55" fill="#000"/>
<rect x="272.70" y="262.08" width="7.00" height="30.52" fill="#a8042b"/>
<rect x="273.00" y="262.38" width="6.40" height="30.22" fill="none" stroke="#950020" stroke-width="0.6"/>
<line x1="276.20" y1="262.08" x2="276.20" y2="260.17" stroke="#111" stroke-width="0.6"/>
<line x1="274.90" y1="260.17" x2="277.50" y2="260.17" stroke="#111" stroke-width="0.6"/>
<polygon points="276.20,256.56 277.82,259.46 274.58,259.46" fill="#000"/>
<polygon points="274.70,260.38 276.32,263.27 273.08,263.27" fill="#000"/>
<polygon points="277.70,260.38 279.32,263.27 276.08,263.27" fill="#000"/>
<rect x="283.10" y="242.24" width="7.20" height="50.36" fill="#2d4a81"/>
<rect x="283.40" y="242.54" width="6.60" height="50.06" fill="none" stroke="#1d3970" stroke-width="0.6"/>
<line x1="286.70" y1="242.24" x2="286.70" y2="240.33" stroke="#111" stroke-width="0.6"/>
<line x1="285.40" y1="240.33" x2="288.00" y2="240.33" stroke="#111" stroke-width="0.6"/>
<circle cx="285.70" cy="240.72" r="1.55" fill="#000"/>
<circle cx="287.70" cy="242.24" r="1.55" fill="#000"/>
<circle cx="286.70" cy="243.01" r="1.55" fill="#000"/>
<rect x="294.00" y="251.40" width="7.00" height="41.20" fill="#a8042b"/>
<rect x="294.30" y="251.70" width="6.40" height="40.90" fill="none" stroke="#950020" stroke-width="0.6"/>
<line x1="297.50" y1="251.40" x2="297.50" y2="249.49" stroke="#111" stroke-width="0.6"/>
<line x1="296.20" y1="249.49" x2="298.80" y2="249.49" stroke="#111" stroke-width="0.6"/>
<circle cx="296.50" cy="250.64" r="1.55" fill="#000"/>
<circle cx="298.50" cy="251.40" r="1.55" fill="#000"/>
<circle cx="297.50" cy="252.16" r="1.55" fill="#000"/>
<line x1="194.50" y1="212.30" x2="194.50" y2="293.00" stroke="#000" stroke-width="1.0"/>
<line x1="194.00" y1="292.50" x2="304.00" y2="292.50" stroke="#000" stroke-width="1.0"/>
<line x1="190.70" y1="292.60" x2="194.00" y2="292.60" stroke="#000" stroke-width="0.75"/>
<text x="188.10" y="294.45" text-anchor="end" fill="#333" style="font-size:5.2px;stroke:#333;stroke-width:0.177px;">0</text>
<line x1="190.70" y1="277.34" x2="194.00" y2="277.34" stroke="#000" stroke-width="0.75"/>
<text x="188.10" y="279.19" text-anchor="end" fill="#333" style="font-size:5.2px;stroke:#333;stroke-width:0.177px;">20</text>
<line x1="190.70" y1="262.08" x2="194.00" y2="262.08" stroke="#000" stroke-width="0.75"/>
<text x="188.10" y="263.93" text-anchor="end" fill="#333" style="font-size:5.2px;stroke:#333;stroke-width:0.177px;">40</text>
<line x1="190.70" y1="246.82" x2="194.00" y2="246.82" stroke="#000" stroke-width="0.75"/>
<text x="188.10" y="248.67" text-anchor="end" fill="#333" style="font-size:5.2px;stroke:#333;stroke-width:0.177px;">60</text>
<line x1="190.70" y1="231.56" x2="194.00" y2="231.56" stroke="#000" stroke-width="0.75"/>
<text x="188.10" y="233.41" text-anchor="end" fill="#333" style="font-size:5.2px;stroke:#333;stroke-width:0.177px;">80</text>
<line x1="190.70" y1="216.30" x2="194.00" y2="216.30" stroke="#000" stroke-width="0.75"/>
<text x="188.10" y="218.15" text-anchor="end" fill="#333" style="font-size:5.2px;stroke:#333;stroke-width:0.177px;">100</text>
<text x="222.80" y="246.51" text-anchor="middle" fill="#222" style="font-size:5.0px;stroke:#222;stroke-width:0.170px;">*</text>
<text x="244.10" y="222.86" text-anchor="middle" fill="#222" style="font-size:5.0px;stroke:#222;stroke-width:0.170px;">*</text>
<text x="286.70" y="238.12" text-anchor="middle" fill="#222" style="font-size:5.0px;stroke:#222;stroke-width:0.170px;">*</text>
<text x="233.60" y="253.10" text-anchor="middle" fill="#222" style="font-size:4.8px;stroke:#222;stroke-width:0.163px;">&#8224;</text>
<text x="254.90" y="232.50" text-anchor="middle" fill="#222" style="font-size:4.8px;stroke:#222;stroke-width:0.163px;">&#8224;</text>
<text x="297.50" y="246.24" text-anchor="middle" fill="#222" style="font-size:4.8px;stroke:#222;stroke-width:0.163px;">&#8224;</text>
<line x1="197.90" y1="295.80" x2="215.80" y2="295.80" stroke="#707070" stroke-width="1.3"/>
<line x1="219.20" y1="295.80" x2="237.10" y2="295.80" stroke="#707070" stroke-width="1.3"/>
<line x1="240.50" y1="295.80" x2="258.40" y2="295.80" stroke="#707070" stroke-width="1.3"/>
<line x1="261.80" y1="295.80" x2="279.70" y2="295.80" stroke="#707070" stroke-width="1.3"/>
<line x1="283.10" y1="295.80" x2="301.00" y2="295.80" stroke="#707070" stroke-width="1.3"/>
<text x="206.85" y="303.60" text-anchor="middle" fill="#333" style="font-size:5.3px;stroke:#333;stroke-width:0.180px;">RP</text>
<text x="228.15" y="303.60" text-anchor="middle" fill="#333" style="font-size:5.3px;stroke:#333;stroke-width:0.180px;">50</text>
<text x="249.45" y="303.60" text-anchor="middle" fill="#333" style="font-size:5.3px;stroke:#333;stroke-width:0.180px;">100</text>
<text x="270.75" y="303.60" text-anchor="middle" fill="#333" style="font-size:5.3px;stroke:#333;stroke-width:0.180px;">50</text>
<text x="292.05" y="303.60" text-anchor="middle" fill="#333" style="font-size:5.3px;stroke:#333;stroke-width:0.180px;">75</text>
<line x1="219.20" y1="307.60" x2="258.40" y2="307.60" stroke="#555" stroke-width="1.0"/>
<line x1="261.80" y1="307.60" x2="301.00" y2="307.60" stroke="#555" stroke-width="1.0"/>
<text x="238.80" y="315.40" text-anchor="middle" fill="#333" style="font-size:5.4px;stroke:#333;stroke-width:0.184px;" textLength="44.00" lengthAdjust="spacingAndGlyphs">Convulxin (ng/mL)</text>
<text x="281.40" y="315.40" text-anchor="middle" fill="#333" style="font-size:5.4px;stroke:#333;stroke-width:0.184px;" textLength="26.00" lengthAdjust="spacingAndGlyphs">PAR4 (&#181;M)</text>
<text x="0" y="0" transform="translate(173.60,253.20) rotate(-90)" text-anchor="middle" fill="#333" style="font-size:6.2px;stroke:#333;stroke-width:0.211px;" textLength="46.70" lengthAdjust="spacingAndGlyphs">CD 62P-FITC (MFI)</text>
<rect x="373.00" y="198.60" width="10.40" height="4.00" fill="#2d4a81"/>
<text x="385.80" y="202.70" text-anchor="start" fill="#333" style="font-size:5.3px;stroke:#333;stroke-width:0.180px;" textLength="19.00" lengthAdjust="spacingAndGlyphs">PKM2<tspan dy="-2.01" style="font-size:3.18px;stroke-width:0.05px">fl/fl</tspan></text>
<rect x="373.00" y="205.00" width="10.40" height="3.90" fill="#a8042b"/>
<text x="385.80" y="208.90" text-anchor="start" fill="#333" style="font-size:5.3px;stroke:#333;stroke-width:0.180px;" textLength="36.00" lengthAdjust="spacingAndGlyphs">PKM2<tspan dy="-2.01" style="font-size:3.18px;stroke-width:0.05px">fl/fl</tspan><tspan dy="2.01">PF4Cre+</tspan></text>
<rect x="355.20" y="245.89" width="12.50" height="46.51" fill="#2d4a81"/>
<rect x="355.50" y="246.19" width="11.90" height="46.21" fill="none" stroke="#1d3970" stroke-width="0.6"/>
<line x1="361.45" y1="245.89" x2="361.45" y2="238.87" stroke="#111" stroke-width="0.6"/>
<line x1="360.15" y1="238.87" x2="362.75" y2="238.87" stroke="#111" stroke-width="0.6"/>
<circle cx="361.45" cy="225.71" r="1.75" fill="#000"/>
<circle cx="357.95" cy="245.01" r="1.75" fill="#000"/>
<circle cx="364.95" cy="245.89" r="1.75" fill="#000"/>
<circle cx="361.45" cy="248.52" r="1.75" fill="#000"/>
<circle cx="361.45" cy="259.93" r="1.75" fill="#000"/>
<rect x="371.00" y="288.01" width="12.50" height="4.39" fill="#a8042b"/>
<rect x="371.30" y="288.31" width="11.90" height="4.09" fill="none" stroke="#950020" stroke-width="0.6"/>
<line x1="377.25" y1="288.01" x2="377.25" y2="286.26" stroke="#111" stroke-width="0.6"/>
<line x1="375.95" y1="286.26" x2="378.55" y2="286.26" stroke="#111" stroke-width="0.6"/>
<circle cx="373.75" cy="288.01" r="1.75" fill="#000"/>
<circle cx="377.25" cy="284.50" r="1.75" fill="#000"/>
<circle cx="380.75" cy="284.50" r="1.75" fill="#000"/>
<circle cx="375.75" cy="287.13" r="1.75" fill="#000"/>
<circle cx="379.25" cy="288.01" r="1.75" fill="#000"/>
<rect x="390.00" y="259.93" width="12.00" height="32.47" fill="#2d4a81"/>
<rect x="390.30" y="260.23" width="11.40" height="32.17" fill="none" stroke="#1d3970" stroke-width="0.6"/>
<line x1="396.00" y1="259.93" x2="396.00" y2="252.91" stroke="#111" stroke-width="0.6"/>
<line x1="394.70" y1="252.91" x2="397.30" y2="252.91" stroke="#111" stroke-width="0.6"/>
<polygon points="396.00,233.44 397.83,236.71 394.17,236.71" fill="#000"/>
<polygon points="396.00,242.21 397.83,245.48 394.17,245.48" fill="#000"/>
<polygon points="393.00,266.78 394.83,270.06 391.17,270.06" fill="#000"/>
<polygon points="399.00,266.78 400.83,270.06 397.17,270.06" fill="#000"/>
<polygon points="395.00,262.39 396.83,265.67 393.17,265.67" fill="#000"/>
<polygon points="397.00,266.78 398.83,270.06 395.17,270.06" fill="#000"/>
<rect x="405.80" y="274.85" width="12.50" height="17.55" fill="#a8042b"/>
<rect x="406.10" y="275.15" width="11.90" height="17.25" fill="none" stroke="#950020" stroke-width="0.6"/>
<line x1="412.05" y1="274.85" x2="412.05" y2="272.22" stroke="#111" stroke-width="0.6"/>
<line x1="410.75" y1="272.22" x2="413.35" y2="272.22" stroke="#111" stroke-width="0.6"/>
<polygon points="412.05,265.90 413.88,269.18 410.22,269.18" fill="#000"/>
<polygon points="408.05,270.29 409.88,273.56 406.22,273.56" fill="#000"/>
<polygon points="416.05,270.29 417.88,273.56 414.22,273.56" fill="#000"/>
<polygon points="409.05,275.56 410.88,278.83 407.22,278.83" fill="#000"/>
<polygon points="415.05,275.56 416.88,278.83 413.22,278.83" fill="#000"/>
<polygon points="412.05,278.19 413.88,281.46 410.22,281.46" fill="#000"/>
<line x1="352.50" y1="219.20" x2="352.50" y2="293.00" stroke="#000" stroke-width="1.0"/>
<line x1="352.00" y1="292.50" x2="420.70" y2="292.50" stroke="#000" stroke-width="1.0"/>
<line x1="349.00" y1="292.40" x2="352.30" y2="292.40" stroke="#000" stroke-width="0.75"/>
<text x="346.40" y="294.25" text-anchor="end" fill="#333" style="font-size:5.2px;stroke:#333;stroke-width:0.177px;">0</text>
<line x1="349.00" y1="274.85" x2="352.30" y2="274.85" stroke="#000" stroke-width="0.75"/>
<text x="346.40" y="276.70" text-anchor="end" fill="#333" style="font-size:5.2px;stroke:#333;stroke-width:0.177px;">20</text>
<line x1="349.00" y1="257.30" x2="352.30" y2="257.30" stroke="#000" stroke-width="0.75"/>
<text x="346.40" y="259.15" text-anchor="end" fill="#333" style="font-size:5.2px;stroke:#333;stroke-width:0.177px;">40</text>
<line x1="349.00" y1="239.75" x2="352.30" y2="239.75" stroke="#000" stroke-width="0.75"/>
<text x="346.40" y="241.60" text-anchor="end" fill="#333" style="font-size:5.2px;stroke:#333;stroke-width:0.177px;">60</text>
<line x1="349.00" y1="222.20" x2="352.30" y2="222.20" stroke="#000" stroke-width="0.75"/>
<text x="346.40" y="224.05" text-anchor="end" fill="#333" style="font-size:5.2px;stroke:#333;stroke-width:0.177px;">80</text>
<line x1="355.20" y1="295.40" x2="384.00" y2="295.40" stroke="#333" stroke-width="1.0"/>
<line x1="389.40" y1="295.40" x2="418.60" y2="295.40" stroke="#333" stroke-width="1.0"/>
<text x="368.40" y="302.00" text-anchor="middle" fill="#333" style="font-size:5.2px;stroke:#333;stroke-width:0.177px;" textLength="23.30" lengthAdjust="spacingAndGlyphs">Convulxin</text>
<text x="368.40" y="308.70" text-anchor="middle" fill="#333" style="font-size:5.2px;stroke:#333;stroke-width:0.177px;" textLength="26.50" lengthAdjust="spacingAndGlyphs">(40 ng/mL)</text>
<text x="404.60" y="302.00" text-anchor="middle" fill="#333" style="font-size:5.2px;stroke:#333;stroke-width:0.177px;" textLength="21.70" lengthAdjust="spacingAndGlyphs">Thrombin</text>
<text x="404.60" y="308.70" text-anchor="middle" fill="#333" style="font-size:5.2px;stroke:#333;stroke-width:0.177px;" textLength="26.00" lengthAdjust="spacingAndGlyphs">(0.04 U/mL)</text>
<text x="368.60" y="218.00" text-anchor="middle" fill="#222" style="font-size:5.2px;stroke:#222;stroke-width:0.177px;" textLength="17.80" lengthAdjust="spacingAndGlyphs"><tspan font-style="italic">p</tspan> &lt; .05</text>
<line x1="358.20" y1="220.80" x2="379.80" y2="220.80" stroke="#222" stroke-width="0.9"/>
<text x="404.40" y="224.40" text-anchor="middle" fill="#222" style="font-size:5.2px;stroke:#222;stroke-width:0.177px;" textLength="17.90" lengthAdjust="spacingAndGlyphs"><tspan font-style="italic">p</tspan> &lt; .05</text>
<line x1="393.30" y1="226.40" x2="414.70" y2="226.40" stroke="#222" stroke-width="0.9"/>
<text x="0" y="0" transform="translate(326.40,256.00) rotate(-90)" text-anchor="middle" fill="#333" style="font-size:5.9px;stroke:#333;stroke-width:0.201px;" textLength="49.10" lengthAdjust="spacingAndGlyphs">% of luminescence</text>
<text x="0" y="0" transform="translate(333.10,256.60) rotate(-90)" text-anchor="middle" fill="#333" style="font-size:6.0px;stroke:#333;stroke-width:0.204px;" textLength="41.20" lengthAdjust="spacingAndGlyphs">(ATP secretion)</text>
<text x="7.50" y="359.00" text-anchor="start" fill="#333" style="font-size:5.2px;stroke:#333;stroke-width:0.177px;" textLength="24.50" lengthAdjust="spacingAndGlyphs">Time (min)</text>
<text x="41.60" y="359.00" text-anchor="middle" fill="#333" style="font-size:5.2px;stroke:#333;stroke-width:0.177px;">0</text>
<text x="58.90" y="359.00" text-anchor="middle" fill="#333" style="font-size:5.2px;stroke:#333;stroke-width:0.177px;">30</text>
<text x="74.60" y="359.00" text-anchor="middle" fill="#333" style="font-size:5.2px;stroke:#333;stroke-width:0.177px;">45</text>
<text x="88.90" y="359.00" text-anchor="middle" fill="#333" style="font-size:5.2px;stroke:#333;stroke-width:0.177px;">60</text>
<rect x="34.90" y="361.90" width="13.70" height="26.10" fill="#2c2224"/>
<rect x="35.70" y="362.60" width="12.10" height="24.70" fill="#807778"/>
<rect x="36.75" y="362.60" width="0.9" height="24.70" fill="#a89c9c"/>
<rect x="45.95" y="362.60" width="0.9" height="24.70" fill="#9a8e8e"/>
<rect x="35.70" y="362.60" width="12.10" height="24.30" fill="#c41e2e"/>
<rect x="37.90" y="364.60" width="2.4" height="18.70" fill="#d87080" opacity="0.45"/>
<rect x="34.90" y="389.10" width="13.70" height="26.30" fill="#2c2224"/>
<rect x="35.70" y="389.80" width="12.10" height="24.90" fill="#807778"/>
<rect x="36.75" y="389.80" width="0.9" height="24.90" fill="#a89c9c"/>
<rect x="45.95" y="389.80" width="0.9" height="24.90" fill="#9a8e8e"/>
<rect x="35.70" y="389.80" width="12.10" height="24.50" fill="#c41e2e"/>
<rect x="37.90" y="391.80" width="2.4" height="18.90" fill="#d87080" opacity="0.45"/>
<rect x="52.00" y="361.90" width="14.00" height="26.00" fill="#2c2224"/>
<rect x="52.80" y="362.60" width="12.40" height="24.60" fill="#807778"/>
<rect x="53.89" y="362.60" width="0.9" height="24.60" fill="#a89c9c"/>
<rect x="63.31" y="362.60" width="0.9" height="24.60" fill="#9a8e8e"/>
<rect x="52.80" y="362.60" width="12.40" height="3.60" fill="#c41e2e"/>
<path d="M54.60,362.60 L64.40,362.60 L64.10,377.60 Q63.80,379.40 59.50,379.40 Q55.20,379.40 54.90,377.60 Z" fill="#c41e2e"/>
<rect x="52.80" y="383.60" width="12.40" height="2.5" fill="#c41e2e"/>
<rect x="67.40" y="361.90" width="13.80" height="26.00" fill="#2c2224"/>
<rect x="68.20" y="362.60" width="12.20" height="24.60" fill="#807778"/>
<rect x="69.26" y="362.60" width="0.9" height="24.60" fill="#a89c9c"/>
<rect x="78.54" y="362.60" width="0.9" height="24.60" fill="#9a8e8e"/>
<rect x="68.20" y="362.60" width="12.20" height="3.80" fill="#c41e2e"/>
<path d="M70.80,362.60 L78.00,362.60 L77.70,374.00 Q77.40,375.80 74.40,375.80 Q71.40,375.80 71.10,374.00 Z" fill="#c41e2e"/>
<rect x="68.20" y="383.60" width="12.20" height="2.5" fill="#c41e2e"/>
<rect x="82.00" y="361.90" width="13.60" height="26.00" fill="#2c2224"/>
<rect x="82.80" y="362.60" width="12.00" height="24.60" fill="#807778"/>
<rect x="83.84" y="362.60" width="0.9" height="24.60" fill="#a89c9c"/>
<rect x="92.96" y="362.60" width="0.9" height="24.60" fill="#9a8e8e"/>
<rect x="82.80" y="362.60" width="12.00" height="4.60" fill="#c41e2e"/>
<path d="M87.80,362.60 L93.40,362.60 L93.10,370.40 Q92.80,372.20 90.60,372.20 Q88.40,372.20 88.10,370.40 Z" fill="#c41e2e"/>
<rect x="82.80" y="383.60" width="12.00" height="2.5" fill="#c41e2e"/>
<rect x="52.00" y="389.10" width="14.00" height="26.30" fill="#2c2224"/>
<rect x="52.80" y="389.80" width="12.40" height="24.90" fill="#807778"/>
<rect x="53.89" y="389.80" width="0.9" height="24.90" fill="#a89c9c"/>
<rect x="63.31" y="389.80" width="0.9" height="24.90" fill="#9a8e8e"/>
<rect x="52.80" y="389.80" width="12.40" height="3.00" fill="#c41e2e"/>
<path d="M53.20,389.80 L65.00,389.80 L64.70,408.40 Q64.40,410.20 59.10,410.20 Q53.80,410.20 53.50,408.40 Z" fill="#c41e2e"/>
<rect x="52.80" y="411.10" width="12.40" height="2.5" fill="#c41e2e"/>
<rect x="67.40" y="389.10" width="13.80" height="26.30" fill="#2c2224"/>
<rect x="68.20" y="389.80" width="12.20" height="24.90" fill="#807778"/>
<rect x="69.26" y="389.80" width="0.9" height="24.90" fill="#a89c9c"/>
<rect x="78.54" y="389.80" width="0.9" height="24.90" fill="#9a8e8e"/>
<rect x="68.20" y="389.80" width="12.20" height="3.60" fill="#c41e2e"/>
<path d="M68.80,389.80 L80.00,389.80 L79.70,405.00 Q79.40,406.80 74.40,406.80 Q69.40,406.80 69.10,405.00 Z" fill="#c41e2e"/>
<rect x="68.20" y="411.10" width="12.20" height="2.5" fill="#c41e2e"/>
<rect x="82.00" y="389.10" width="13.60" height="26.30" fill="#2c2224"/>
<rect x="82.80" y="389.80" width="12.00" height="24.90" fill="#807778"/>
<rect x="83.84" y="389.80" width="0.9" height="24.90" fill="#a89c9c"/>
<rect x="92.96" y="389.80" width="0.9" height="24.90" fill="#9a8e8e"/>
<rect x="82.80" y="389.80" width="12.00" height="5.00" fill="#c41e2e"/>
<path d="M86.00,389.80 L93.80,389.80 L93.50,400.00 Q93.20,401.80 89.90,401.80 Q86.60,401.80 86.30,400.00 Z" fill="#c41e2e"/>
<rect x="82.80" y="411.10" width="12.00" height="2.5" fill="#c41e2e"/>
<text x="0" y="0" transform="translate(31.60,375.60) rotate(-90)" text-anchor="middle" fill="#333" style="font-size:5px;stroke:#333;stroke-width:0.170px;" textLength="19.00" lengthAdjust="spacingAndGlyphs">PKM2<tspan dy="-1.90" style="font-size:3.00px;stroke-width:0.05px">fl/fl</tspan></text>
<text x="0" y="0" transform="translate(25.60,403.00) rotate(-90)" text-anchor="middle" fill="#333" style="font-size:5px;stroke:#333;stroke-width:0.170px;" textLength="18.00" lengthAdjust="spacingAndGlyphs">PKM2<tspan dy="-1.90" style="font-size:3.00px;stroke-width:0.05px">fl/fl</tspan></text>
<text x="0" y="0" transform="translate(30.80,403.00) rotate(-90)" text-anchor="middle" fill="#333" style="font-size:5px;stroke:#333;stroke-width:0.170px;" textLength="20.00" lengthAdjust="spacingAndGlyphs">PF4Cre+</text>
<line x1="134.50" y1="353.80" x2="134.50" y2="411.00" stroke="#000" stroke-width="1.0"/>
<line x1="134.00" y1="410.50" x2="213.30" y2="410.50" stroke="#000" stroke-width="1.0"/>
<line x1="131.90" y1="410.50" x2="134.50" y2="410.50" stroke="#000" stroke-width="0.75"/>
<text x="129.60" y="412.35" text-anchor="end" fill="#333" style="font-size:5.3px;stroke:#333;stroke-width:0.180px;">0</text>
<line x1="131.90" y1="396.70" x2="134.50" y2="396.70" stroke="#000" stroke-width="0.75"/>
<text x="129.60" y="398.55" text-anchor="end" fill="#333" style="font-size:5.3px;stroke:#333;stroke-width:0.180px;">30</text>
<line x1="131.90" y1="382.90" x2="134.50" y2="382.90" stroke="#000" stroke-width="0.75"/>
<text x="129.60" y="384.75" text-anchor="end" fill="#333" style="font-size:5.3px;stroke:#333;stroke-width:0.180px;">60</text>
<line x1="131.90" y1="369.10" x2="134.50" y2="369.10" stroke="#000" stroke-width="0.75"/>
<text x="129.60" y="370.95" text-anchor="end" fill="#333" style="font-size:5.3px;stroke:#333;stroke-width:0.180px;">90</text>
<line x1="131.90" y1="355.30" x2="134.50" y2="355.30" stroke="#000" stroke-width="0.75"/>
<text x="129.60" y="357.15" text-anchor="end" fill="#333" style="font-size:5.3px;stroke:#333;stroke-width:0.180px;">120</text>
<line x1="134.50" y1="410.50" x2="134.50" y2="412.50" stroke="#000" stroke-width="0.7"/>
<text x="134.50" y="421.60" text-anchor="middle" fill="#333" style="font-size:5.2px;stroke:#333;stroke-width:0.177px;">0</text>
<line x1="153.62" y1="410.50" x2="153.62" y2="412.50" stroke="#000" stroke-width="0.7"/>
<text x="153.62" y="421.60" text-anchor="middle" fill="#333" style="font-size:5.2px;stroke:#333;stroke-width:0.177px;">15</text>
<line x1="172.75" y1="410.50" x2="172.75" y2="412.50" stroke="#000" stroke-width="0.7"/>
<text x="172.75" y="421.60" text-anchor="middle" fill="#333" style="font-size:5.2px;stroke:#333;stroke-width:0.177px;">30</text>
<line x1="191.88" y1="410.50" x2="191.88" y2="412.50" stroke="#000" stroke-width="0.7"/>
<text x="191.88" y="421.60" text-anchor="middle" fill="#333" style="font-size:5.2px;stroke:#333;stroke-width:0.177px;">45</text>
<line x1="211.00" y1="410.50" x2="211.00" y2="412.50" stroke="#000" stroke-width="0.7"/>
<text x="211.00" y="421.60" text-anchor="middle" fill="#333" style="font-size:5.2px;stroke:#333;stroke-width:0.177px;">60</text>
<text x="174.60" y="432.00" text-anchor="middle" fill="#333" style="font-size:6.8px;stroke:#333;stroke-width:0.231px;" textLength="28.30" lengthAdjust="spacingAndGlyphs">Time (min)</text>
<text transform="translate(116.0,381.2) rotate(-90)" text-anchor="middle" fill="#333" style="font-size:7px" textLength="40" lengthAdjust="spacingAndGlyphs">Clot size (mm<tspan dy="-2.3" style="font-size:4.3px">2</tspan><tspan dy="2.3">)</tspan></text>
<polyline points="134.50,364.50 153.62,373.01 172.75,382.76 191.88,392.24 211.00,401.02" fill="none" stroke="#2d56a6" stroke-width="1.1"/>
<circle cx="134.50" cy="364.50" r="1.40" fill="#2d56a6"/>
<circle cx="153.62" cy="373.01" r="1.40" fill="#2d56a6"/>
<circle cx="172.75" cy="382.76" r="1.40" fill="#2d56a6"/>
<circle cx="191.88" cy="392.24" r="1.40" fill="#2d56a6"/>
<circle cx="211.00" cy="401.02" r="1.40" fill="#2d56a6"/>
<polyline points="134.50,364.50 153.62,367.72 172.75,377.24 191.88,384.28 211.00,393.25" fill="none" stroke="#c42038" stroke-width="1.1"/>
<circle cx="134.50" cy="364.50" r="1.40" fill="#c42038"/>
<circle cx="153.62" cy="367.72" r="1.40" fill="#c42038"/>
<circle cx="172.75" cy="377.24" r="1.40" fill="#c42038"/>
<circle cx="191.88" cy="384.28" r="1.40" fill="#c42038"/>
<circle cx="211.00" cy="393.25" r="1.40" fill="#c42038"/>
<line x1="153.62" y1="366.32" x2="153.62" y2="369.12" stroke="#c42038" stroke-width="0.8"/>
<text x="153.62" y="364.52" text-anchor="middle" fill="#333" style="font-size:4.4px;stroke:#333;stroke-width:0.150px;">*</text>
<line x1="172.75" y1="374.84" x2="172.75" y2="379.64" stroke="#c42038" stroke-width="0.8"/>
<text x="172.75" y="374.04" text-anchor="middle" fill="#333" style="font-size:4.4px;stroke:#333;stroke-width:0.150px;">*</text>
<line x1="191.88" y1="383.08" x2="191.88" y2="385.48" stroke="#c42038" stroke-width="0.8"/>
<text x="191.88" y="381.08" text-anchor="middle" fill="#333" style="font-size:4.4px;stroke:#333;stroke-width:0.150px;">*</text>
<line x1="211.00" y1="391.25" x2="211.00" y2="395.25" stroke="#c42038" stroke-width="0.8"/>
<text x="211.00" y="390.05" text-anchor="middle" fill="#333" style="font-size:4.4px;stroke:#333;stroke-width:0.150px;">*</text>
<line x1="161.00" y1="349.60" x2="171.00" y2="349.60" stroke="#2d56a6" stroke-width="0.9"/>
<circle cx="166.00" cy="349.60" r="0.95" fill="#2d56a6"/>
<line x1="161.00" y1="355.20" x2="171.00" y2="355.20" stroke="#c42038" stroke-width="0.9"/>
<circle cx="166.00" cy="355.20" r="0.95" fill="#c42038"/>
<text x="174.00" y="351.60" text-anchor="start" fill="#333" style="font-size:5.4px;stroke:#333;stroke-width:0.184px;" textLength="20.00" lengthAdjust="spacingAndGlyphs">PKM2<tspan dy="-2.05" style="font-size:3.24px;stroke-width:0.05px">fl/fl</tspan></text>
<text x="174.00" y="357.20" text-anchor="start" fill="#333" style="font-size:5.4px;stroke:#333;stroke-width:0.184px;" textLength="40.00" lengthAdjust="spacingAndGlyphs">PKM2<tspan dy="-2.05" style="font-size:3.24px;stroke-width:0.05px">fl/fl</tspan><tspan dy="2.05">PF4Cre+</tspan></text>
<rect x="238.90" y="354.00" width="69.40" height="56.20" fill="#000"/>
<path d="M242,363h1v1h-1zM241,364h1v1h-1zM254,364h1v1h-1zM270,364h2v1h-2zM275,364h1v1h-1zM242,365h1v1h-1zM252,365h1v1h-1zM275,365h1v1h-1zM295,365h2v1h-2zM301,365h1v1h-1zM261,366h1v1h-1zM265,366h2v1h-2zM270,366h1v1h-1zM272,366h1v1h-1zM275,366h3v1h-3zM280,366h2v1h-2zM287,366h1v1h-1zM239,367h1v1h-1zM243,367h3v1h-3zM255,367h1v1h-1zM257,367h1v1h-1zM261,367h1v1h-1zM265,367h2v1h-2zM274,367h1v1h-1zM276,367h1v1h-1zM278,367h1v1h-1zM280,367h2v1h-2zM285,367h3v1h-3zM291,367h1v1h-1zM293,367h1v1h-1zM305,367h1v1h-1zM239,368h1v1h-1zM243,368h5v1h-5zM255,368h3v1h-3zM261,368h6v1h-6zM269,368h1v1h-1zM271,368h4v1h-4zM276,368h6v1h-6zM285,368h4v1h-4zM290,368h3v1h-3zM296,368h1v1h-1zM300,368h3v1h-3zM240,369h6v1h-6zM247,369h3v1h-3zM251,369h4v1h-4zM261,369h1v1h-1zM263,369h10v1h-10zM276,369h4v1h-4zM282,369h4v1h-4zM288,369h9v1h-9zM299,369h7v1h-7zM239,370h10v1h-10zM252,370h5v1h-5zM258,370h15v1h-15zM274,370h1v1h-1zM276,370h22v1h-22zM300,370h9v1h-9zM240,371h9v1h-9zM252,371h22v1h-22zM275,371h34v1h-34zM239,372h55v1h-55zM295,372h6v1h-6zM302,372h7v1h-7zM239,373h56v1h-56zM296,373h13v1h-13zM239,374h31v1h-31zM272,374h1v1h-1zM276,374h24v1h-24zM301,374h8v1h-8zM240,375h3v1h-3zM244,375h2v1h-2zM247,375h2v1h-2zM257,375h3v1h-3zM264,375h5v1h-5zM270,375h3v1h-3zM274,375h5v1h-5zM286,375h2v1h-2zM289,375h1v1h-1zM291,375h3v1h-3zM295,375h11v1h-11zM308,375h1v1h-1zM240,376h4v1h-4zM245,376h2v1h-2zM255,376h1v1h-1zM264,376h2v1h-2zM268,376h1v1h-1zM273,376h1v1h-1zM277,376h2v1h-2zM286,376h3v1h-3zM291,376h3v1h-3zM296,376h2v1h-2zM300,376h3v1h-3zM240,377h1v1h-1zM242,377h1v1h-1zM244,377h1v1h-1zM266,377h1v1h-1zM289,377h1v1h-1zM292,377h1v1h-1zM300,377h1v1h-1zM302,377h1v1h-1zM249,378h3v1h-3zM255,378h1v1h-1zM257,378h1v1h-1zM265,378h1v1h-1zM279,378h2v1h-2zM283,378h2v1h-2zM287,378h1v1h-1zM291,378h1v1h-1zM256,379h1v1h-1zM264,379h1v1h-1zM293,379h2v1h-2zM249,380h1v1h-1zM283,380h1v1h-1z" fill="#fff"/>
<path d="M252,384h1v1h-1zM288,385h1v1h-1zM290,385h1v1h-1zM288,386h1v1h-1zM290,386h1v1h-1zM302,386h1v1h-1zM254,387h1v1h-1zM261,387h4v1h-4zM271,387h1v1h-1zM273,387h1v1h-1zM278,387h4v1h-4zM296,387h1v1h-1zM244,388h2v1h-2zM249,388h1v1h-1zM253,388h1v1h-1zM261,388h3v1h-3zM265,388h1v1h-1zM270,388h1v1h-1zM276,388h2v1h-2zM279,388h1v1h-1zM281,388h1v1h-1zM294,388h5v1h-5zM243,389h3v1h-3zM249,389h3v1h-3zM253,389h2v1h-2zM261,389h6v1h-6zM270,389h2v1h-2zM273,389h9v1h-9zM294,389h5v1h-5zM240,390h3v1h-3zM249,390h6v1h-6zM258,390h3v1h-3zM266,390h1v1h-1zM268,390h1v1h-1zM270,390h1v1h-1zM273,390h9v1h-9zM283,390h1v1h-1zM288,390h3v1h-3zM294,390h9v1h-9zM306,390h2v1h-2zM239,391h4v1h-4zM247,391h1v1h-1zM249,391h6v1h-6zM258,391h4v1h-4zM264,391h2v1h-2zM267,391h1v1h-1zM270,391h1v1h-1zM272,391h11v1h-11zM287,391h4v1h-4zM292,391h1v1h-1zM294,391h8v1h-8zM307,391h1v1h-1zM240,392h3v1h-3zM248,392h7v1h-7zM258,392h3v1h-3zM268,392h2v1h-2zM273,392h9v1h-9zM284,392h1v1h-1zM286,392h5v1h-5zM292,392h1v1h-1zM294,392h9v1h-9zM240,393h6v1h-6zM250,393h1v1h-1zM252,393h9v1h-9zM263,393h2v1h-2zM267,393h3v1h-3zM271,393h1v1h-1zM274,393h1v1h-1zM276,393h1v1h-1zM283,393h6v1h-6zM290,393h13v1h-13zM308,393h1v1h-1zM240,394h3v1h-3zM245,394h1v1h-1zM252,394h1v1h-1zM254,394h2v1h-2zM257,394h2v1h-2zM261,394h1v1h-1zM264,394h6v1h-6zM272,394h1v1h-1zM277,394h1v1h-1zM291,394h8v1h-8zM300,394h3v1h-3zM241,395h2v1h-2zM244,395h2v1h-2zM255,395h3v1h-3zM260,395h1v1h-1zM265,395h1v1h-1zM267,395h4v1h-4zM291,395h2v1h-2zM294,395h9v1h-9zM308,395h1v1h-1zM243,396h2v1h-2zM248,396h1v1h-1zM252,396h2v1h-2zM258,396h2v1h-2zM261,396h3v1h-3zM265,396h1v1h-1zM279,396h1v1h-1zM282,396h4v1h-4zM289,396h1v1h-1zM292,396h2v1h-2zM297,396h4v1h-4zM304,396h1v1h-1zM253,397h2v1h-2zM260,397h1v1h-1zM262,397h2v1h-2zM265,397h1v1h-1zM282,397h2v1h-2zM291,397h2v1h-2zM302,397h1v1h-1zM260,398h1v1h-1zM262,398h1v1h-1zM282,398h1v1h-1zM291,398h1v1h-1z" fill="#fff"/>
<text x="0" y="0" transform="translate(234.20,371.40) rotate(-90)" text-anchor="middle" fill="#333" style="font-size:5px;stroke:#333;stroke-width:0.170px;" textLength="20.00" lengthAdjust="spacingAndGlyphs">PKM2<tspan dy="-1.90" style="font-size:3.00px;stroke-width:0.05px">fl/fl</tspan></text>
<text x="0" y="0" transform="translate(227.60,397.00) rotate(-90)" text-anchor="middle" fill="#333" style="font-size:5px;stroke:#333;stroke-width:0.170px;" textLength="18.00" lengthAdjust="spacingAndGlyphs">PKM2<tspan dy="-1.90" style="font-size:3.00px;stroke-width:0.05px">fl/fl</tspan></text>
<text x="0" y="0" transform="translate(233.00,397.00) rotate(-90)" text-anchor="middle" fill="#333" style="font-size:5px;stroke:#333;stroke-width:0.170px;" textLength="21.00" lengthAdjust="spacingAndGlyphs">PF4Cre+</text>
<line x1="349.50" y1="352.90" x2="349.50" y2="411.00" stroke="#000" stroke-width="1.0"/>
<line x1="349.00" y1="410.50" x2="423.00" y2="410.50" stroke="#000" stroke-width="1.0"/>
<line x1="346.60" y1="410.50" x2="349.50" y2="410.50" stroke="#000" stroke-width="0.75"/>
<text x="344.40" y="412.35" text-anchor="end" fill="#333" style="font-size:5.4px;stroke:#333;stroke-width:0.184px;">0</text>
<line x1="346.60" y1="399.46" x2="349.50" y2="399.46" stroke="#000" stroke-width="0.75"/>
<text x="344.40" y="401.31" text-anchor="end" fill="#333" style="font-size:5.4px;stroke:#333;stroke-width:0.184px;">3000</text>
<line x1="346.60" y1="388.42" x2="349.50" y2="388.42" stroke="#000" stroke-width="0.75"/>
<text x="344.40" y="390.27" text-anchor="end" fill="#333" style="font-size:5.4px;stroke:#333;stroke-width:0.184px;">6000</text>
<line x1="346.60" y1="377.38" x2="349.50" y2="377.38" stroke="#000" stroke-width="0.75"/>
<text x="344.40" y="379.23" text-anchor="end" fill="#333" style="font-size:5.4px;stroke:#333;stroke-width:0.184px;">9000</text>
<line x1="346.60" y1="366.34" x2="349.50" y2="366.34" stroke="#000" stroke-width="0.75"/>
<text x="344.40" y="368.19" text-anchor="end" fill="#333" style="font-size:5.4px;stroke:#333;stroke-width:0.184px;">12000</text>
<line x1="346.60" y1="355.30" x2="349.50" y2="355.30" stroke="#000" stroke-width="0.75"/>
<text x="344.40" y="357.15" text-anchor="end" fill="#333" style="font-size:5.4px;stroke:#333;stroke-width:0.184px;">15000</text>
<line x1="349.50" y1="410.50" x2="349.50" y2="412.50" stroke="#000" stroke-width="0.7"/>
<text x="349.50" y="421.20" text-anchor="middle" fill="#333" style="font-size:5.0px;stroke:#333;stroke-width:0.170px;">0</text>
<line x1="361.23" y1="410.50" x2="361.23" y2="412.50" stroke="#000" stroke-width="0.7"/>
<text x="361.23" y="421.20" text-anchor="middle" fill="#333" style="font-size:5.0px;stroke:#333;stroke-width:0.170px;">20</text>
<line x1="372.97" y1="410.50" x2="372.97" y2="412.50" stroke="#000" stroke-width="0.7"/>
<text x="372.97" y="421.20" text-anchor="middle" fill="#333" style="font-size:5.0px;stroke:#333;stroke-width:0.170px;">40</text>
<line x1="384.70" y1="410.50" x2="384.70" y2="412.50" stroke="#000" stroke-width="0.7"/>
<text x="384.70" y="421.20" text-anchor="middle" fill="#333" style="font-size:5.0px;stroke:#333;stroke-width:0.170px;">60</text>
<line x1="396.43" y1="410.50" x2="396.43" y2="412.50" stroke="#000" stroke-width="0.7"/>
<text x="396.43" y="421.20" text-anchor="middle" fill="#333" style="font-size:5.0px;stroke:#333;stroke-width:0.170px;">80</text>
<line x1="408.17" y1="410.50" x2="408.17" y2="412.50" stroke="#000" stroke-width="0.7"/>
<text x="408.17" y="421.20" text-anchor="middle" fill="#333" style="font-size:5.0px;stroke:#333;stroke-width:0.170px;">100</text>
<line x1="419.90" y1="410.50" x2="419.90" y2="412.50" stroke="#000" stroke-width="0.7"/>
<text x="419.90" y="421.20" text-anchor="middle" fill="#333" style="font-size:5.0px;stroke:#333;stroke-width:0.170px;">120</text>
<text x="386.30" y="432.40" text-anchor="middle" fill="#333" style="font-size:6.8px;stroke:#333;stroke-width:0.231px;" textLength="20.60" lengthAdjust="spacingAndGlyphs">Time (s)</text>
<text x="0" y="0" transform="translate(323.20,381.60) rotate(-90)" text-anchor="middle" fill="#333" style="font-size:6.6px;stroke:#333;stroke-width:0.224px;" textLength="73.30" lengthAdjust="spacingAndGlyphs">Thrombus growth (area A.U.)</text>
<line x1="349.50" y1="410.50" x2="419.90" y2="362.66" stroke="#2d56a6" stroke-width="0.9"/>
<line x1="349.50" y1="410.50" x2="419.90" y2="384.74" stroke="#c42038" stroke-width="0.9"/>
<line x1="349.50" y1="398.72" x2="349.50" y2="400.93" stroke="#2d56a6" stroke-width="0.6"/>
<rect x="348.60" y="398.93" width="1.80" height="1.80" fill="#2d56a6"/>
<line x1="361.23" y1="388.79" x2="361.23" y2="395.41" stroke="#2d56a6" stroke-width="0.6"/>
<rect x="360.33" y="391.20" width="1.80" height="1.80" fill="#2d56a6"/>
<line x1="372.97" y1="385.11" x2="372.97" y2="391.73" stroke="#2d56a6" stroke-width="0.6"/>
<rect x="372.07" y="387.52" width="1.80" height="1.80" fill="#2d56a6"/>
<line x1="384.70" y1="378.12" x2="384.70" y2="384.00" stroke="#2d56a6" stroke-width="0.6"/>
<rect x="383.80" y="380.16" width="1.80" height="1.80" fill="#2d56a6"/>
<line x1="396.43" y1="376.28" x2="396.43" y2="379.96" stroke="#2d56a6" stroke-width="0.6"/>
<rect x="395.53" y="377.22" width="1.80" height="1.80" fill="#2d56a6"/>
<line x1="408.17" y1="370.39" x2="408.17" y2="374.80" stroke="#2d56a6" stroke-width="0.6"/>
<rect x="407.27" y="371.70" width="1.80" height="1.80" fill="#2d56a6"/>
<line x1="419.90" y1="365.97" x2="419.90" y2="370.39" stroke="#2d56a6" stroke-width="0.6"/>
<rect x="419.00" y="367.28" width="1.80" height="1.80" fill="#2d56a6"/>
<line x1="349.50" y1="399.46" x2="349.50" y2="403.14" stroke="#c42038" stroke-width="0.6"/>
<rect x="348.60" y="400.40" width="1.80" height="1.80" fill="#c42038"/>
<line x1="361.23" y1="396.15" x2="361.23" y2="402.77" stroke="#c42038" stroke-width="0.6"/>
<rect x="360.33" y="398.56" width="1.80" height="1.80" fill="#c42038"/>
<line x1="372.97" y1="395.78" x2="372.97" y2="401.67" stroke="#c42038" stroke-width="0.6"/>
<rect x="372.07" y="397.82" width="1.80" height="1.80" fill="#c42038"/>
<line x1="384.70" y1="394.68" x2="384.70" y2="399.83" stroke="#c42038" stroke-width="0.6"/>
<rect x="383.80" y="396.35" width="1.80" height="1.80" fill="#c42038"/>
<line x1="396.43" y1="391.73" x2="396.43" y2="399.83" stroke="#c42038" stroke-width="0.6"/>
<rect x="395.53" y="394.88" width="1.80" height="1.80" fill="#c42038"/>
<line x1="408.17" y1="386.58" x2="408.17" y2="395.41" stroke="#c42038" stroke-width="0.6"/>
<rect x="407.27" y="390.10" width="1.80" height="1.80" fill="#c42038"/>
<line x1="419.90" y1="381.80" x2="419.90" y2="389.16" stroke="#c42038" stroke-width="0.6"/>
<rect x="419.00" y="384.58" width="1.80" height="1.80" fill="#c42038"/>
<text x="384.70" y="377.46" text-anchor="middle" fill="#333" style="font-size:4.4px;stroke:#333;stroke-width:0.150px;">*</text>
<text x="396.43" y="374.52" text-anchor="middle" fill="#333" style="font-size:4.4px;stroke:#333;stroke-width:0.150px;">*</text>
<text x="408.17" y="369.00" text-anchor="middle" fill="#333" style="font-size:4.4px;stroke:#333;stroke-width:0.150px;">*</text>
<text x="419.90" y="364.58" text-anchor="middle" fill="#333" style="font-size:4.4px;stroke:#333;stroke-width:0.150px;">*</text>
<line x1="354.00" y1="349.30" x2="364.30" y2="349.30" stroke="#2d56a6" stroke-width="0.9"/>
<rect x="358.30" y="348.40" width="1.80" height="1.80" fill="#2d56a6"/>
<line x1="354.00" y1="355.80" x2="364.30" y2="355.80" stroke="#c42038" stroke-width="0.9"/>
<rect x="358.30" y="354.90" width="1.80" height="1.80" fill="#c42038"/>
<text x="366.60" y="351.30" text-anchor="start" fill="#333" style="font-size:5.3px;stroke:#333;stroke-width:0.180px;" textLength="19.00" lengthAdjust="spacingAndGlyphs">PKM2<tspan dy="-2.01" style="font-size:3.18px;stroke-width:0.05px">fl/fl</tspan></text>
<text x="366.60" y="357.80" text-anchor="start" fill="#333" style="font-size:5.3px;stroke:#333;stroke-width:0.180px;" textLength="40.00" lengthAdjust="spacingAndGlyphs">PKM2<tspan dy="-2.01" style="font-size:3.18px;stroke-width:0.05px">fl/fl</tspan><tspan dy="2.01">PF4Cre+</tspan></text>
<rect x="464.60" y="377.30" width="10.00" height="32.70" fill="#2d4a81"/>
<rect x="464.90" y="377.60" width="9.40" height="32.40" fill="none" stroke="#1d3970" stroke-width="0.6"/>
<line x1="469.60" y1="377.30" x2="469.60" y2="373.71" stroke="#111" stroke-width="0.6"/>
<line x1="468.30" y1="373.71" x2="470.90" y2="373.71" stroke="#111" stroke-width="0.6"/>
<circle cx="469.60" cy="372.37" r="1.40" fill="#000"/>
<circle cx="466.60" cy="374.61" r="1.40" fill="#000"/>
<circle cx="472.60" cy="375.50" r="1.40" fill="#000"/>
<circle cx="467.60" cy="377.30" r="1.40" fill="#000"/>
<circle cx="471.60" cy="378.19" r="1.40" fill="#000"/>
<circle cx="469.60" cy="380.43" r="1.40" fill="#000"/>
<circle cx="468.60" cy="382.22" r="1.40" fill="#000"/>
<circle cx="470.60" cy="376.40" r="1.40" fill="#000"/>
<rect x="479.80" y="383.57" width="10.00" height="26.43" fill="#a8042b"/>
<rect x="480.10" y="383.87" width="9.40" height="26.13" fill="none" stroke="#950020" stroke-width="0.6"/>
<line x1="484.80" y1="383.57" x2="484.80" y2="380.43" stroke="#111" stroke-width="0.6"/>
<line x1="483.50" y1="380.43" x2="486.10" y2="380.43" stroke="#111" stroke-width="0.6"/>
<circle cx="485.80" cy="374.16" r="1.40" fill="#000"/>
<circle cx="482.80" cy="377.74" r="1.40" fill="#000"/>
<circle cx="487.80" cy="380.88" r="1.40" fill="#000"/>
<circle cx="481.80" cy="383.12" r="1.40" fill="#000"/>
<circle cx="486.80" cy="384.91" r="1.40" fill="#000"/>
<circle cx="484.80" cy="386.70" r="1.40" fill="#000"/>
<circle cx="483.80" cy="384.02" r="1.40" fill="#000"/>
<line x1="460.50" y1="363.40" x2="460.50" y2="411.00" stroke="#000" stroke-width="1.0"/>
<line x1="460.00" y1="410.50" x2="495.00" y2="410.50" stroke="#000" stroke-width="1.0"/>
<line x1="457.10" y1="410.00" x2="460.40" y2="410.00" stroke="#000" stroke-width="0.75"/>
<text x="454.20" y="411.85" text-anchor="end" fill="#333" style="font-size:5.2px;stroke:#333;stroke-width:0.177px;">0</text>
<line x1="457.10" y1="401.04" x2="460.40" y2="401.04" stroke="#000" stroke-width="0.75"/>
<text x="454.20" y="402.89" text-anchor="end" fill="#333" style="font-size:5.2px;stroke:#333;stroke-width:0.177px;">20</text>
<line x1="457.10" y1="392.08" x2="460.40" y2="392.08" stroke="#000" stroke-width="0.75"/>
<text x="454.20" y="393.93" text-anchor="end" fill="#333" style="font-size:5.2px;stroke:#333;stroke-width:0.177px;">40</text>
<line x1="457.10" y1="383.12" x2="460.40" y2="383.12" stroke="#000" stroke-width="0.75"/>
<text x="454.20" y="384.97" text-anchor="end" fill="#333" style="font-size:5.2px;stroke:#333;stroke-width:0.177px;">60</text>
<line x1="457.10" y1="374.16" x2="460.40" y2="374.16" stroke="#000" stroke-width="0.75"/>
<text x="454.20" y="376.01" text-anchor="end" fill="#333" style="font-size:5.2px;stroke:#333;stroke-width:0.177px;">80</text>
<line x1="457.10" y1="365.20" x2="460.40" y2="365.20" stroke="#000" stroke-width="0.75"/>
<text x="454.20" y="367.05" text-anchor="end" fill="#333" style="font-size:5.2px;stroke:#333;stroke-width:0.177px;">100</text>
<text x="477.20" y="365.60" text-anchor="middle" fill="#222" style="font-size:5.0px;stroke:#222;stroke-width:0.170px;" textLength="17.50" lengthAdjust="spacingAndGlyphs"><tspan font-style="italic">P</tspan> &lt; .05</text>
<line x1="468.00" y1="367.40" x2="486.00" y2="367.40" stroke="#222" stroke-width="0.9"/>
<text x="0" y="0" transform="translate(471.00,416.30) rotate(-47)" text-anchor="end" fill="#333" style="font-size:5px;stroke:#333;stroke-width:0.170px;" textLength="19.50" lengthAdjust="spacingAndGlyphs">PKM2<tspan dy="-1.90" style="font-size:3.00px;stroke-width:0.05px">fl/fl</tspan></text>
<text x="0" y="0" transform="translate(487.80,418.60) rotate(-44)" text-anchor="end" fill="#333" style="font-size:5px;stroke:#333;stroke-width:0.170px;" textLength="38.50" lengthAdjust="spacingAndGlyphs">PKM2<tspan dy="-1.90" style="font-size:3.00px;stroke-width:0.05px">fl/fl</tspan><tspan dy="1.90">PF4Cre+</tspan></text>
<text x="0" y="0" transform="translate(438.90,386.00) rotate(-90)" text-anchor="middle" fill="#333" style="font-size:6.6px;stroke:#333;stroke-width:0.224px;" textLength="76.20" lengthAdjust="spacingAndGlyphs">% of area covered by platelets</text>
<rect x="0.5" y="0.5" width="518.8" height="451.6" fill="none" stroke="#000" stroke-width="1"/>
<rect x="0" y="451.6" width="520" height="1.4" fill="#000"/>
</g></svg>
</body></html>
